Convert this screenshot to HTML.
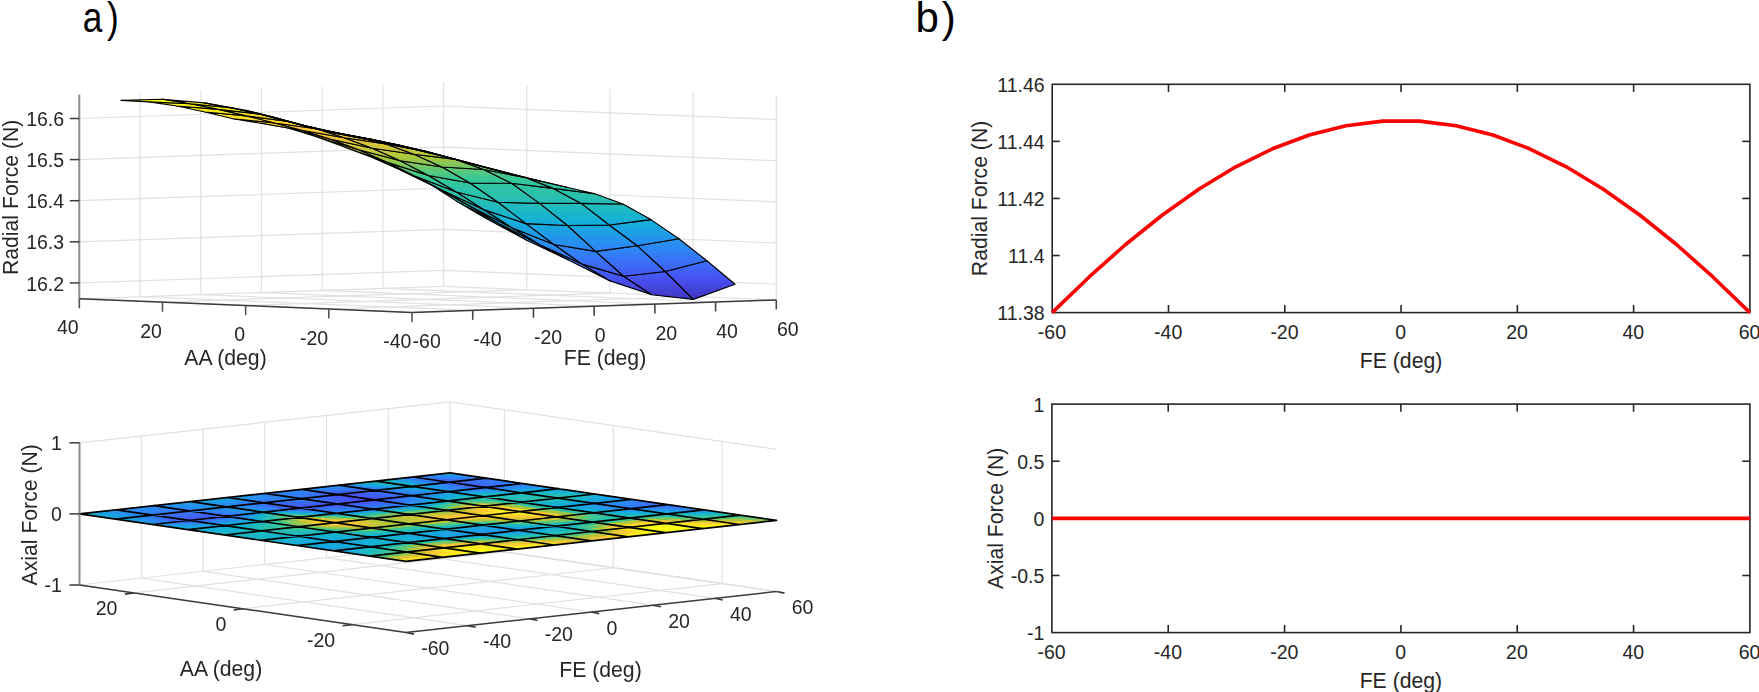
<!DOCTYPE html>
<html><head><meta charset="utf-8"><title>Figure</title>
<style>
html,body{margin:0;padding:0;background:#fff;}
svg{display:block;font-family:"Liberation Sans",sans-serif;}
</style></head><body>
<svg width="1759" height="692" viewBox="0 0 1759 692">
<rect width="1759" height="692" fill="#fff"/>
<text x="0" y="32.3" font-size="42" fill="#000" letter-spacing="5.6" transform="translate(82.8 0) scale(0.84 1)">a)</text>
<text x="0" y="32.3" font-size="42" fill="#000" letter-spacing="3" transform="translate(915.4 0)">b)</text>
<rect x="1052.2" y="84.3" width="697.70" height="228.30" fill="none" stroke="#262626" stroke-width="1.6"/>
<text x="1051.90" y="339.40" font-size="19.5" text-anchor="middle" fill="#262626">-60</text>
<line x1="1168.48" y1="312.60" x2="1168.48" y2="305.00" stroke="#262626" stroke-width="1.6"/>
<line x1="1168.48" y1="84.30" x2="1168.48" y2="91.90" stroke="#262626" stroke-width="1.6"/>
<text x="1168.18" y="339.40" font-size="19.5" text-anchor="middle" fill="#262626">-40</text>
<line x1="1284.77" y1="312.60" x2="1284.77" y2="305.00" stroke="#262626" stroke-width="1.6"/>
<line x1="1284.77" y1="84.30" x2="1284.77" y2="91.90" stroke="#262626" stroke-width="1.6"/>
<text x="1284.47" y="339.40" font-size="19.5" text-anchor="middle" fill="#262626">-20</text>
<line x1="1401.05" y1="312.60" x2="1401.05" y2="305.00" stroke="#262626" stroke-width="1.6"/>
<line x1="1401.05" y1="84.30" x2="1401.05" y2="91.90" stroke="#262626" stroke-width="1.6"/>
<text x="1400.75" y="339.40" font-size="19.5" text-anchor="middle" fill="#262626">0</text>
<line x1="1517.33" y1="312.60" x2="1517.33" y2="305.00" stroke="#262626" stroke-width="1.6"/>
<line x1="1517.33" y1="84.30" x2="1517.33" y2="91.90" stroke="#262626" stroke-width="1.6"/>
<text x="1517.03" y="339.40" font-size="19.5" text-anchor="middle" fill="#262626">20</text>
<line x1="1633.62" y1="312.60" x2="1633.62" y2="305.00" stroke="#262626" stroke-width="1.6"/>
<line x1="1633.62" y1="84.30" x2="1633.62" y2="91.90" stroke="#262626" stroke-width="1.6"/>
<text x="1633.32" y="339.40" font-size="19.5" text-anchor="middle" fill="#262626">40</text>
<text x="1749.60" y="339.40" font-size="19.5" text-anchor="middle" fill="#262626">60</text>
<text x="1044.60" y="320.40" font-size="19.5" text-anchor="end" fill="#262626">11.38</text>
<line x1="1052.20" y1="255.53" x2="1059.80" y2="255.53" stroke="#262626" stroke-width="1.6"/>
<line x1="1749.90" y1="255.53" x2="1742.30" y2="255.53" stroke="#262626" stroke-width="1.6"/>
<text x="1044.60" y="263.33" font-size="19.5" text-anchor="end" fill="#262626">11.4</text>
<line x1="1052.20" y1="198.45" x2="1059.80" y2="198.45" stroke="#262626" stroke-width="1.6"/>
<line x1="1749.90" y1="198.45" x2="1742.30" y2="198.45" stroke="#262626" stroke-width="1.6"/>
<text x="1044.60" y="206.25" font-size="19.5" text-anchor="end" fill="#262626">11.42</text>
<line x1="1052.20" y1="141.38" x2="1059.80" y2="141.38" stroke="#262626" stroke-width="1.6"/>
<line x1="1749.90" y1="141.38" x2="1742.30" y2="141.38" stroke="#262626" stroke-width="1.6"/>
<text x="1044.60" y="149.18" font-size="19.5" text-anchor="end" fill="#262626">11.44</text>
<text x="1044.60" y="92.10" font-size="19.5" text-anchor="end" fill="#262626">11.46</text>
<text x="1401.05" y="367.60" font-size="21.2" text-anchor="middle" fill="#262626">FE (deg)</text>
<text x="987.50" y="198.45" font-size="21.2" text-anchor="middle" fill="#262626" transform="rotate(-90 987.50 198.45)">Radial Force (N)</text>
<polyline points="1052.2,312.6 1088.9,277.2 1125.6,244.5 1162.4,215.0 1199.1,189.0 1235.8,166.8 1272.5,148.8 1309.2,135.0 1346.0,125.8 1382.7,121.1 1419.4,121.1 1456.1,125.8 1492.9,135.0 1529.6,148.8 1566.3,166.8 1603.0,189.0 1639.7,215.0 1676.5,244.5 1713.2,277.2 1749.9,312.6" fill="none" stroke="#ff0000" stroke-width="3.6" stroke-linejoin="round"/>
<rect x="1051.9" y="404.1" width="698.00" height="228.50" fill="none" stroke="#262626" stroke-width="1.6"/>
<text x="1051.60" y="659.40" font-size="19.5" text-anchor="middle" fill="#262626">-60</text>
<line x1="1168.23" y1="632.60" x2="1168.23" y2="625.00" stroke="#262626" stroke-width="1.6"/>
<line x1="1168.23" y1="404.10" x2="1168.23" y2="411.70" stroke="#262626" stroke-width="1.6"/>
<text x="1167.93" y="659.40" font-size="19.5" text-anchor="middle" fill="#262626">-40</text>
<line x1="1284.57" y1="632.60" x2="1284.57" y2="625.00" stroke="#262626" stroke-width="1.6"/>
<line x1="1284.57" y1="404.10" x2="1284.57" y2="411.70" stroke="#262626" stroke-width="1.6"/>
<text x="1284.27" y="659.40" font-size="19.5" text-anchor="middle" fill="#262626">-20</text>
<line x1="1400.90" y1="632.60" x2="1400.90" y2="625.00" stroke="#262626" stroke-width="1.6"/>
<line x1="1400.90" y1="404.10" x2="1400.90" y2="411.70" stroke="#262626" stroke-width="1.6"/>
<text x="1400.60" y="659.40" font-size="19.5" text-anchor="middle" fill="#262626">0</text>
<line x1="1517.23" y1="632.60" x2="1517.23" y2="625.00" stroke="#262626" stroke-width="1.6"/>
<line x1="1517.23" y1="404.10" x2="1517.23" y2="411.70" stroke="#262626" stroke-width="1.6"/>
<text x="1516.93" y="659.40" font-size="19.5" text-anchor="middle" fill="#262626">20</text>
<line x1="1633.57" y1="632.60" x2="1633.57" y2="625.00" stroke="#262626" stroke-width="1.6"/>
<line x1="1633.57" y1="404.10" x2="1633.57" y2="411.70" stroke="#262626" stroke-width="1.6"/>
<text x="1633.27" y="659.40" font-size="19.5" text-anchor="middle" fill="#262626">40</text>
<text x="1749.60" y="659.40" font-size="19.5" text-anchor="middle" fill="#262626">60</text>
<text x="1044.30" y="640.40" font-size="19.5" text-anchor="end" fill="#262626">-1</text>
<line x1="1051.90" y1="575.48" x2="1059.50" y2="575.48" stroke="#262626" stroke-width="1.6"/>
<line x1="1749.90" y1="575.48" x2="1742.30" y2="575.48" stroke="#262626" stroke-width="1.6"/>
<text x="1044.30" y="583.27" font-size="19.5" text-anchor="end" fill="#262626">-0.5</text>
<line x1="1051.90" y1="518.35" x2="1059.50" y2="518.35" stroke="#262626" stroke-width="1.6"/>
<line x1="1749.90" y1="518.35" x2="1742.30" y2="518.35" stroke="#262626" stroke-width="1.6"/>
<text x="1044.30" y="526.15" font-size="19.5" text-anchor="end" fill="#262626">0</text>
<line x1="1051.90" y1="461.23" x2="1059.50" y2="461.23" stroke="#262626" stroke-width="1.6"/>
<line x1="1749.90" y1="461.23" x2="1742.30" y2="461.23" stroke="#262626" stroke-width="1.6"/>
<text x="1044.30" y="469.03" font-size="19.5" text-anchor="end" fill="#262626">0.5</text>
<text x="1044.30" y="411.90" font-size="19.5" text-anchor="end" fill="#262626">1</text>
<text x="1400.90" y="687.60" font-size="21.2" text-anchor="middle" fill="#262626">FE (deg)</text>
<text x="1003.50" y="518.35" font-size="21.2" text-anchor="middle" fill="#262626" transform="rotate(-90 1003.50 518.35)">Axial Force (N)</text>
<line x1="1052.2" y1="518.35" x2="1749.9" y2="518.35" stroke="#ff0000" stroke-width="3.6"/>
<defs><filter id="soft" x="-2%" y="-2%" width="104%" height="104%"><feGaussianBlur stdDeviation="0.5"/></filter></defs>
<g id="p1" filter="url(#soft)">
<line x1="79.30" y1="298.80" x2="412.00" y2="312.40" stroke="#e1e1e1" stroke-width="1.2"/>
<line x1="140.02" y1="296.72" x2="472.72" y2="310.32" stroke="#e1e1e1" stroke-width="1.2"/>
<line x1="200.73" y1="294.63" x2="533.44" y2="308.23" stroke="#e1e1e1" stroke-width="1.2"/>
<line x1="261.45" y1="292.55" x2="594.15" y2="306.15" stroke="#e1e1e1" stroke-width="1.2"/>
<line x1="322.16" y1="290.46" x2="654.87" y2="304.06" stroke="#e1e1e1" stroke-width="1.2"/>
<line x1="382.88" y1="288.38" x2="715.58" y2="301.98" stroke="#e1e1e1" stroke-width="1.2"/>
<line x1="443.60" y1="286.30" x2="776.30" y2="299.90" stroke="#e1e1e1" stroke-width="1.2"/>
<line x1="412.00" y1="312.40" x2="776.30" y2="299.90" stroke="#e1e1e1" stroke-width="1.2"/>
<line x1="328.83" y1="309.00" x2="693.12" y2="296.50" stroke="#e1e1e1" stroke-width="1.2"/>
<line x1="245.65" y1="305.60" x2="609.95" y2="293.10" stroke="#e1e1e1" stroke-width="1.2"/>
<line x1="162.48" y1="302.20" x2="526.77" y2="289.70" stroke="#e1e1e1" stroke-width="1.2"/>
<line x1="79.30" y1="298.80" x2="443.60" y2="286.30" stroke="#e1e1e1" stroke-width="1.2"/>
<line x1="79.30" y1="298.80" x2="79.30" y2="94.80" stroke="#e1e1e1" stroke-width="1.2"/>
<line x1="140.02" y1="296.72" x2="140.02" y2="92.72" stroke="#e1e1e1" stroke-width="1.2"/>
<line x1="200.73" y1="294.63" x2="200.73" y2="90.63" stroke="#e1e1e1" stroke-width="1.2"/>
<line x1="261.45" y1="292.55" x2="261.45" y2="88.55" stroke="#e1e1e1" stroke-width="1.2"/>
<line x1="322.16" y1="290.46" x2="322.16" y2="86.46" stroke="#e1e1e1" stroke-width="1.2"/>
<line x1="382.88" y1="288.38" x2="382.88" y2="84.38" stroke="#e1e1e1" stroke-width="1.2"/>
<line x1="443.60" y1="286.30" x2="443.60" y2="82.30" stroke="#e1e1e1" stroke-width="1.2"/>
<line x1="776.30" y1="299.90" x2="776.30" y2="95.90" stroke="#e1e1e1" stroke-width="1.2"/>
<line x1="693.12" y1="296.50" x2="693.12" y2="92.50" stroke="#e1e1e1" stroke-width="1.2"/>
<line x1="609.95" y1="293.10" x2="609.95" y2="89.10" stroke="#e1e1e1" stroke-width="1.2"/>
<line x1="526.77" y1="289.70" x2="526.77" y2="85.70" stroke="#e1e1e1" stroke-width="1.2"/>
<polyline points="79.3,282.9 443.6,270.4 776.3,284.0" fill="none" stroke="#e1e1e1" stroke-width="1.2"/>
<polyline points="79.3,241.8 443.6,229.3 776.3,242.9" fill="none" stroke="#e1e1e1" stroke-width="1.2"/>
<polyline points="79.3,200.7 443.6,188.2 776.3,201.8" fill="none" stroke="#e1e1e1" stroke-width="1.2"/>
<polyline points="79.3,159.6 443.6,147.1 776.3,160.7" fill="none" stroke="#e1e1e1" stroke-width="1.2"/>
<polyline points="79.3,118.5 443.6,106.0 776.3,119.6" fill="none" stroke="#e1e1e1" stroke-width="1.2"/>
<defs><linearGradient id="pg" gradientUnits="userSpaceOnUse" x1="0" y1="96.0" x2="0" y2="302.0"><stop offset="0.000" stop-color="#f9fb15"/><stop offset="0.025" stop-color="#f9fb15"/><stop offset="0.050" stop-color="#faf21a"/><stop offset="0.075" stop-color="#fbe821"/><stop offset="0.100" stop-color="#fcde27"/><stop offset="0.125" stop-color="#fdd52d"/><stop offset="0.150" stop-color="#fecb33"/><stop offset="0.175" stop-color="#fbc338"/><stop offset="0.200" stop-color="#edc438"/><stop offset="0.225" stop-color="#dec538"/><stop offset="0.250" stop-color="#cec538"/><stop offset="0.275" stop-color="#bcc639"/><stop offset="0.300" stop-color="#a8c73b"/><stop offset="0.325" stop-color="#8ac754"/><stop offset="0.350" stop-color="#6cc76d"/><stop offset="0.375" stop-color="#4fc884"/><stop offset="0.400" stop-color="#38c896"/><stop offset="0.425" stop-color="#32c59f"/><stop offset="0.450" stop-color="#2ec3a6"/><stop offset="0.475" stop-color="#2bc1ab"/><stop offset="0.500" stop-color="#28bfb1"/><stop offset="0.525" stop-color="#23bcb9"/><stop offset="0.550" stop-color="#1eb9c2"/><stop offset="0.575" stop-color="#18b5cc"/><stop offset="0.600" stop-color="#12b1d6"/><stop offset="0.625" stop-color="#17aadc"/><stop offset="0.650" stop-color="#1ba2e2"/><stop offset="0.675" stop-color="#209be7"/><stop offset="0.700" stop-color="#2593ed"/><stop offset="0.725" stop-color="#2a8cf3"/><stop offset="0.750" stop-color="#2f84f7"/><stop offset="0.775" stop-color="#337bf6"/><stop offset="0.800" stop-color="#3872f6"/><stop offset="0.825" stop-color="#3d69f5"/><stop offset="0.850" stop-color="#415ff5"/><stop offset="0.875" stop-color="#4656f4"/><stop offset="0.900" stop-color="#474eed"/><stop offset="0.925" stop-color="#4546e0"/><stop offset="0.950" stop-color="#433fd2"/><stop offset="0.975" stop-color="#4237c5"/><stop offset="1.000" stop-color="#402fb8"/></linearGradient></defs>
<g stroke="#000" stroke-width="1.15" stroke-linejoin="round" fill="url(#pg)">
<polygon points="498.8,223.4 526.8,240.2 485.2,217.9 457.2,201.4"/>
<polygon points="470.8,206.6 498.8,223.4 457.2,201.4 429.2,183.5"/>
<polygon points="540.4,244.9 568.5,260.0 526.8,240.2 498.8,223.4"/>
<polygon points="442.8,190.6 470.8,206.6 429.2,183.5 401.1,170.3"/>
<polygon points="512.4,228.0 540.4,244.9 498.8,223.4 470.8,206.6"/>
<polygon points="414.8,176.0 442.8,190.6 401.1,170.3 373.1,157.7"/>
<polygon points="582.1,264.1 610.1,280.9 568.5,260.0 540.4,244.9"/>
<polygon points="484.4,209.9 512.4,228.0 470.8,206.6 442.8,190.6"/>
<polygon points="386.7,162.1 414.8,176.0 373.1,157.7 345.1,147.2"/>
<polygon points="554.0,244.5 582.1,264.1 540.4,244.9 512.4,228.0"/>
<polygon points="456.4,192.0 484.4,209.9 442.8,190.6 414.8,176.0"/>
<polygon points="358.7,149.7 386.7,162.1 345.1,147.2 317.1,137.0"/>
<polygon points="623.7,276.2 651.7,294.8 610.1,280.9 582.1,264.1"/>
<polygon points="526.0,223.6 554.0,244.5 512.4,228.0 484.4,209.9"/>
<polygon points="428.4,175.5 456.4,192.0 414.8,176.0 386.7,162.1"/>
<polygon points="330.7,139.2 358.7,149.7 317.1,137.0 289.1,128.2"/>
<polygon points="595.7,251.4 623.7,276.2 582.1,264.1 554.0,244.5"/>
<polygon points="498.0,202.3 526.0,223.6 484.4,209.9 456.4,192.0"/>
<polygon points="400.3,160.8 428.4,175.5 386.7,162.1 358.7,149.7"/>
<polygon points="302.7,130.5 330.7,139.2 289.1,128.2 261.0,123.3"/>
<polygon points="665.3,271.5 693.3,299.4 651.7,294.8 623.7,276.2"/>
<polygon points="567.6,225.5 595.7,251.4 554.0,244.5 526.0,223.6"/>
<polygon points="470.0,183.0 498.0,202.3 456.4,192.0 428.4,175.5"/>
<polygon points="372.3,148.3 400.3,160.8 358.7,149.7 330.7,139.2"/>
<polygon points="274.7,123.0 302.7,130.5 261.0,123.3 233.0,118.7"/>
<polygon points="637.3,245.7 665.3,271.5 623.7,276.2 595.7,251.4"/>
<polygon points="539.6,203.4 567.6,225.5 526.0,223.6 498.0,202.3"/>
<polygon points="442.0,167.0 470.0,183.0 428.4,175.5 400.3,160.8"/>
<polygon points="344.3,137.7 372.3,148.3 330.7,139.2 302.7,130.5"/>
<polygon points="706.9,260.8 735.0,284.3 693.3,299.4 665.3,271.5"/>
<polygon points="246.6,115.9 274.7,123.0 233.0,118.7 205.0,112.0"/>
<polygon points="609.3,225.0 637.3,245.7 595.7,251.4 567.6,225.5"/>
<polygon points="511.6,183.3 539.6,203.4 498.0,202.3 470.0,183.0"/>
<polygon points="413.9,154.2 442.0,167.0 400.3,160.8 372.3,148.3"/>
<polygon points="316.3,128.8 344.3,137.7 302.7,130.5 274.7,123.0"/>
<polygon points="678.9,238.7 706.9,260.8 665.3,271.5 637.3,245.7"/>
<polygon points="218.6,109.4 246.6,115.9 205.0,112.0 177.0,106.0"/>
<polygon points="581.3,203.4 609.3,225.0 567.6,225.5 539.6,203.4"/>
<polygon points="483.6,169.5 511.6,183.3 470.0,183.0 442.0,167.0"/>
<polygon points="385.9,144.0 413.9,154.2 372.3,148.3 344.3,137.7"/>
<polygon points="288.3,121.5 316.3,128.8 274.7,123.0 246.6,115.9"/>
<polygon points="650.9,219.6 678.9,238.7 637.3,245.7 609.3,225.0"/>
<polygon points="190.6,103.8 218.6,109.4 177.0,106.0 149.0,101.9"/>
<polygon points="553.2,188.4 581.3,203.4 539.6,203.4 511.6,183.3"/>
<polygon points="455.6,159.4 483.6,169.5 442.0,167.0 413.9,154.2"/>
<polygon points="357.9,136.9 385.9,144.0 344.3,137.7 316.3,128.8"/>
<polygon points="260.2,114.1 288.3,121.5 246.6,115.9 218.6,109.4"/>
<polygon points="622.9,204.0 650.9,219.6 609.3,225.0 581.3,203.4"/>
<polygon points="162.6,99.2 190.6,103.8 149.0,101.9 120.9,100.4"/>
<polygon points="525.2,177.5 553.2,188.4 511.6,183.3 483.6,169.5"/>
<polygon points="427.5,151.7 455.6,159.4 413.9,154.2 385.9,144.0"/>
<polygon points="329.9,132.0 357.9,136.9 316.3,128.8 288.3,121.5"/>
<polygon points="232.2,108.0 260.2,114.1 218.6,109.4 190.6,103.8"/>
<polygon points="594.9,193.7 622.9,204.0 581.3,203.4 553.2,188.4"/>
<polygon points="497.2,170.4 525.2,177.5 483.6,169.5 455.6,159.4"/>
<polygon points="399.5,145.2 427.5,151.7 385.9,144.0 357.9,136.9"/>
<polygon points="301.9,125.1 329.9,132.0 288.3,121.5 260.2,114.1"/>
<polygon points="204.2,102.9 232.2,108.0 190.6,103.8 162.6,99.2"/>
<polygon points="566.8,187.3 594.9,193.7 553.2,188.4 525.2,177.5"/>
<polygon points="469.2,163.1 497.2,170.4 455.6,159.4 427.5,151.7"/>
<polygon points="371.5,139.3 399.5,145.2 357.9,136.9 329.9,132.0"/>
<polygon points="273.8,117.3 301.9,125.1 260.2,114.1 232.2,108.0"/>
<polygon points="538.8,180.8 566.8,187.3 525.2,177.5 497.2,170.4"/>
<polygon points="441.2,155.5 469.2,163.1 427.5,151.7 399.5,145.2"/>
<polygon points="343.5,134.4 371.5,139.3 329.9,132.0 301.9,125.1"/>
<polygon points="245.8,110.4 273.8,117.3 232.2,108.0 204.2,102.9"/>
<polygon points="510.8,173.8 538.8,180.8 497.2,170.4 469.2,163.1"/>
<polygon points="413.1,148.9 441.2,155.5 399.5,145.2 371.5,139.3"/>
<polygon points="315.5,128.6 343.5,134.4 301.9,125.1 273.8,117.3"/>
<polygon points="482.8,166.7 510.8,173.8 469.2,163.1 441.2,155.5"/>
<polygon points="385.1,142.9 413.1,148.9 371.5,139.3 343.5,134.4"/>
<polygon points="287.4,121.3 315.5,128.6 273.8,117.3 245.8,110.4"/>
<polygon points="454.8,159.2 482.8,166.7 441.2,155.5 413.1,148.9"/>
<polygon points="357.1,137.4 385.1,142.9 343.5,134.4 315.5,128.6"/>
<polygon points="426.7,151.5 454.8,159.2 413.1,148.9 385.1,142.9"/>
<polygon points="329.1,132.0 357.1,137.4 315.5,128.6 287.4,121.3"/>
<polygon points="398.7,145.1 426.7,151.5 385.1,142.9 357.1,137.4"/>
<polygon points="370.7,139.2 398.7,145.1 357.1,137.4 329.1,132.0"/>
</g>
<line x1="79.30" y1="298.80" x2="79.30" y2="94.80" stroke="#8c8c8c" stroke-width="2.0"/>
<polyline points="79.3,298.8 412.0,312.4 776.3,299.9" fill="none" stroke="#3a3a3a" stroke-width="1.5" stroke-linejoin="round"/>
<line x1="69.80" y1="282.90" x2="79.30" y2="282.90" stroke="#3a3a3a" stroke-width="1.5"/>
<text x="64.10" y="290.50" font-size="19.5" text-anchor="end" fill="#262626">16.2</text>
<line x1="69.80" y1="241.80" x2="79.30" y2="241.80" stroke="#3a3a3a" stroke-width="1.5"/>
<text x="64.10" y="249.40" font-size="19.5" text-anchor="end" fill="#262626">16.3</text>
<line x1="69.80" y1="200.70" x2="79.30" y2="200.70" stroke="#3a3a3a" stroke-width="1.5"/>
<text x="64.10" y="208.30" font-size="19.5" text-anchor="end" fill="#262626">16.4</text>
<line x1="69.80" y1="159.60" x2="79.30" y2="159.60" stroke="#3a3a3a" stroke-width="1.5"/>
<text x="64.10" y="167.20" font-size="19.5" text-anchor="end" fill="#262626">16.5</text>
<line x1="69.80" y1="118.50" x2="79.30" y2="118.50" stroke="#3a3a3a" stroke-width="1.5"/>
<text x="64.10" y="126.10" font-size="19.5" text-anchor="end" fill="#262626">16.6</text>
<line x1="79.30" y1="298.80" x2="79.30" y2="308.30" stroke="#555" stroke-width="1.6"/>
<text x="78.70" y="334.40" font-size="19.5" text-anchor="end" fill="#262626">40</text>
<line x1="162.48" y1="302.20" x2="162.48" y2="311.70" stroke="#555" stroke-width="1.6"/>
<text x="161.88" y="337.80" font-size="19.5" text-anchor="end" fill="#262626">20</text>
<line x1="245.65" y1="305.60" x2="245.65" y2="315.10" stroke="#555" stroke-width="1.6"/>
<text x="245.05" y="341.20" font-size="19.5" text-anchor="end" fill="#262626">0</text>
<line x1="328.83" y1="309.00" x2="328.83" y2="318.50" stroke="#555" stroke-width="1.6"/>
<text x="328.23" y="344.60" font-size="19.5" text-anchor="end" fill="#262626">-20</text>
<line x1="412.00" y1="312.40" x2="412.00" y2="321.90" stroke="#555" stroke-width="1.6"/>
<text x="411.40" y="348.00" font-size="19.5" text-anchor="end" fill="#262626">-40</text>
<text x="412.60" y="348.40" font-size="19.5" text-anchor="start" fill="#262626">-60</text>
<line x1="472.72" y1="310.32" x2="472.72" y2="319.82" stroke="#444" stroke-width="1.6"/>
<text x="473.32" y="346.32" font-size="19.5" text-anchor="start" fill="#262626">-40</text>
<line x1="533.44" y1="308.23" x2="533.44" y2="317.73" stroke="#444" stroke-width="1.6"/>
<text x="534.04" y="344.23" font-size="19.5" text-anchor="start" fill="#262626">-20</text>
<line x1="594.15" y1="306.15" x2="594.15" y2="315.65" stroke="#444" stroke-width="1.6"/>
<text x="594.75" y="342.15" font-size="19.5" text-anchor="start" fill="#262626">0</text>
<line x1="654.87" y1="304.06" x2="654.87" y2="313.56" stroke="#444" stroke-width="1.6"/>
<text x="655.47" y="340.06" font-size="19.5" text-anchor="start" fill="#262626">20</text>
<line x1="715.58" y1="301.98" x2="715.58" y2="311.48" stroke="#444" stroke-width="1.6"/>
<text x="716.18" y="337.98" font-size="19.5" text-anchor="start" fill="#262626">40</text>
<line x1="776.30" y1="299.90" x2="776.30" y2="309.40" stroke="#444" stroke-width="1.6"/>
<text x="776.90" y="335.90" font-size="19.5" text-anchor="start" fill="#262626">60</text>
<text x="225.50" y="365.00" font-size="21.2" text-anchor="middle" fill="#262626">AA (deg)</text>
<text x="605.00" y="364.70" font-size="21.2" text-anchor="middle" fill="#262626">FE (deg)</text>
<text x="17.60" y="197.30" font-size="21.2" text-anchor="middle" fill="#262626" transform="rotate(-90 17.60 197.30)">Radial Force (N)</text>
</g>
<g id="p2" filter="url(#soft)">
<line x1="79.50" y1="585.00" x2="406.00" y2="632.50" stroke="#e1e1e1" stroke-width="1.2"/>
<line x1="79.50" y1="585.00" x2="79.50" y2="442.80" stroke="#e1e1e1" stroke-width="1.2"/>
<line x1="141.25" y1="578.17" x2="467.75" y2="625.67" stroke="#e1e1e1" stroke-width="1.2"/>
<line x1="141.25" y1="578.17" x2="141.25" y2="435.97" stroke="#e1e1e1" stroke-width="1.2"/>
<line x1="203.00" y1="571.33" x2="529.50" y2="618.83" stroke="#e1e1e1" stroke-width="1.2"/>
<line x1="203.00" y1="571.33" x2="203.00" y2="429.13" stroke="#e1e1e1" stroke-width="1.2"/>
<line x1="264.75" y1="564.50" x2="591.25" y2="612.00" stroke="#e1e1e1" stroke-width="1.2"/>
<line x1="264.75" y1="564.50" x2="264.75" y2="422.30" stroke="#e1e1e1" stroke-width="1.2"/>
<line x1="326.50" y1="557.66" x2="653.00" y2="605.17" stroke="#e1e1e1" stroke-width="1.2"/>
<line x1="326.50" y1="557.66" x2="326.50" y2="415.46" stroke="#e1e1e1" stroke-width="1.2"/>
<line x1="388.25" y1="550.83" x2="714.75" y2="598.33" stroke="#e1e1e1" stroke-width="1.2"/>
<line x1="388.25" y1="550.83" x2="388.25" y2="408.63" stroke="#e1e1e1" stroke-width="1.2"/>
<line x1="450.00" y1="544.00" x2="776.50" y2="591.50" stroke="#e1e1e1" stroke-width="1.2"/>
<line x1="450.00" y1="544.00" x2="450.00" y2="401.80" stroke="#e1e1e1" stroke-width="1.2"/>
<line x1="133.92" y1="592.92" x2="504.42" y2="551.91" stroke="#e1e1e1" stroke-width="1.2"/>
<line x1="504.42" y1="551.91" x2="504.42" y2="409.71" stroke="#e1e1e1" stroke-width="1.2"/>
<line x1="242.75" y1="608.75" x2="613.25" y2="567.75" stroke="#e1e1e1" stroke-width="1.2"/>
<line x1="613.25" y1="567.75" x2="613.25" y2="425.55" stroke="#e1e1e1" stroke-width="1.2"/>
<line x1="351.58" y1="624.59" x2="722.09" y2="583.58" stroke="#e1e1e1" stroke-width="1.2"/>
<line x1="722.09" y1="583.58" x2="722.09" y2="441.38" stroke="#e1e1e1" stroke-width="1.2"/>
<polyline points="79.5,585.0 450.0,544.0 776.5,591.5" fill="none" stroke="#e1e1e1" stroke-width="1.2"/>
<polyline points="79.5,513.9 450.0,472.9 776.5,520.4" fill="none" stroke="#e1e1e1" stroke-width="1.2"/>
<polyline points="79.5,442.8 450.0,401.8 776.5,449.3" fill="none" stroke="#e1e1e1" stroke-width="1.2"/>
<polyline points="450.0,544.0 776.5,591.5" fill="none" stroke="#e1e1e1" stroke-width="1.2"/>
<g shape-rendering="crispEdges" stroke-width="0.6">
<polygon points="79.5,513.9 91.8,512.5 103.9,514.3 91.6,515.7" fill="#15adda" stroke="#15adda"/>
<polygon points="91.8,512.5 104.2,511.2 116.3,512.9 103.9,514.3" fill="#1ca1e3" stroke="#1ca1e3"/>
<polygon points="104.2,511.2 116.5,509.8 128.6,511.6 116.3,512.9" fill="#2495ec" stroke="#2495ec"/>
<polygon points="116.5,509.8 128.9,508.4 141.0,510.2 128.6,511.6" fill="#288ff1" stroke="#288ff1"/>
<polygon points="128.9,508.4 141.2,507.1 153.3,508.8 141.0,510.2" fill="#298ef2" stroke="#298ef2"/>
<polygon points="141.2,507.1 153.6,505.7 165.7,507.5 153.3,508.8" fill="#2a8cf3" stroke="#2a8cf3"/>
<polygon points="153.6,505.7 165.9,504.3 178.0,506.1 165.7,507.5" fill="#288ff1" stroke="#288ff1"/>
<polygon points="165.9,504.3 178.3,503.0 190.4,504.7 178.0,506.1" fill="#2496eb" stroke="#2496eb"/>
<polygon points="178.3,503.0 190.6,501.6 202.7,503.4 190.4,504.7" fill="#1f9de6" stroke="#1f9de6"/>
<polygon points="190.6,501.6 203.0,500.2 215.1,502.0 202.7,503.4" fill="#1ca2e2" stroke="#1ca2e2"/>
<polygon points="203.0,500.2 215.3,498.9 227.4,500.6 215.1,502.0" fill="#1ba4e1" stroke="#1ba4e1"/>
<polygon points="215.3,498.9 227.7,497.5 239.8,499.3 227.4,500.6" fill="#19a6df" stroke="#19a6df"/>
<polygon points="227.7,497.5 240.0,496.1 252.1,497.9 239.8,499.3" fill="#1ca1e3" stroke="#1ca1e3"/>
<polygon points="240.0,496.1 252.4,494.8 264.5,496.5 252.1,497.9" fill="#2496eb" stroke="#2496eb"/>
<polygon points="252.4,494.8 264.8,493.4 276.8,495.2 264.5,496.5" fill="#2b8bf4" stroke="#2b8bf4"/>
<polygon points="264.8,493.4 277.1,492.0 289.2,493.8 276.8,495.2" fill="#2e86f7" stroke="#2e86f7"/>
<polygon points="277.1,492.0 289.4,490.7 301.5,492.4 289.2,493.8" fill="#2d88f6" stroke="#2d88f6"/>
<polygon points="289.4,490.7 301.8,489.3 313.9,491.1 301.5,492.4" fill="#2b8af4" stroke="#2b8af4"/>
<polygon points="301.8,489.3 314.1,487.9 326.2,489.7 313.9,491.1" fill="#2a8cf3" stroke="#2a8cf3"/>
<polygon points="314.1,487.9 326.5,486.6 338.6,488.3 326.2,489.7" fill="#2a8cf3" stroke="#2a8cf3"/>
<polygon points="326.5,486.6 338.8,485.2 350.9,487.0 338.6,488.3" fill="#298df2" stroke="#298df2"/>
<polygon points="338.8,485.2 351.2,483.8 363.3,485.6 350.9,487.0" fill="#2298e9" stroke="#2298e9"/>
<polygon points="351.2,483.8 363.6,482.5 375.6,484.2 363.3,485.6" fill="#13aed8" stroke="#13aed8"/>
<polygon points="363.6,482.5 375.9,481.1 388.0,482.9 375.6,484.2" fill="#23bcb9" stroke="#23bcb9"/>
<polygon points="375.9,481.1 388.3,479.7 400.3,481.5 388.0,482.9" fill="#1fb9c0" stroke="#1fb9c0"/>
<polygon points="388.3,479.7 400.6,478.4 412.7,480.1 400.3,481.5" fill="#1ca2e2" stroke="#1ca2e2"/>
<polygon points="400.6,478.4 412.9,477.0 425.0,478.8 412.7,480.1" fill="#3083f7" stroke="#3083f7"/>
<polygon points="412.9,477.0 425.3,475.6 437.4,477.4 425.0,478.8" fill="#337cf6" stroke="#337cf6"/>
<polygon points="425.3,475.6 437.6,474.3 449.7,476.0 437.4,477.4" fill="#2791ef" stroke="#2791ef"/>
<polygon points="437.6,474.3 450.0,472.9 462.1,474.7 449.7,476.0" fill="#1aa4e0" stroke="#1aa4e0"/>
<polygon points="91.6,515.7 103.9,514.3 116.0,516.1 103.7,517.4" fill="#15adda" stroke="#15adda"/>
<polygon points="103.9,514.3 116.3,512.9 128.4,514.7 116.0,516.1" fill="#1f9ee5" stroke="#1f9ee5"/>
<polygon points="116.3,512.9 128.6,511.6 140.7,513.3 128.4,514.7" fill="#298ef1" stroke="#298ef1"/>
<polygon points="128.6,511.6 141.0,510.2 153.1,512.0 140.7,513.3" fill="#2e87f7" stroke="#2e87f7"/>
<polygon points="141.0,510.2 153.3,508.8 165.4,510.6 153.1,512.0" fill="#2e86f7" stroke="#2e86f7"/>
<polygon points="153.3,508.8 165.7,507.5 177.8,509.2 165.4,510.6" fill="#2e86f7" stroke="#2e86f7"/>
<polygon points="165.7,507.5 178.0,506.1 190.1,507.9 177.8,509.2" fill="#2c8af5" stroke="#2c8af5"/>
<polygon points="178.0,506.1 190.4,504.7 202.5,506.5 190.1,507.9" fill="#2791ef" stroke="#2791ef"/>
<polygon points="190.4,504.7 202.7,503.4 214.8,505.1 202.5,506.5" fill="#2299e9" stroke="#2299e9"/>
<polygon points="202.7,503.4 215.1,502.0 227.2,503.8 214.8,505.1" fill="#219ae8" stroke="#219ae8"/>
<polygon points="215.1,502.0 227.4,500.6 239.5,502.4 227.2,503.8" fill="#2397eb" stroke="#2397eb"/>
<polygon points="227.4,500.6 239.8,499.3 251.9,501.0 239.5,502.4" fill="#2693ee" stroke="#2693ee"/>
<polygon points="239.8,499.3 252.1,497.9 264.2,499.7 251.9,501.0" fill="#288ff1" stroke="#288ff1"/>
<polygon points="252.1,497.9 264.5,496.5 276.6,498.3 264.2,499.7" fill="#2b8bf4" stroke="#2b8bf4"/>
<polygon points="264.5,496.5 276.8,495.2 288.9,496.9 276.6,498.3" fill="#2d87f7" stroke="#2d87f7"/>
<polygon points="276.8,495.2 289.2,493.8 301.3,495.5 288.9,496.9" fill="#3082f7" stroke="#3082f7"/>
<polygon points="289.2,493.8 301.5,492.4 313.6,494.2 301.3,495.5" fill="#327ef6" stroke="#327ef6"/>
<polygon points="301.5,492.4 313.9,491.1 326.0,492.8 313.6,494.2" fill="#3579f6" stroke="#3579f6"/>
<polygon points="313.9,491.1 326.2,489.7 338.3,491.4 326.0,492.8" fill="#3578f6" stroke="#3578f6"/>
<polygon points="326.2,489.7 338.6,488.3 350.7,490.1 338.3,491.4" fill="#347bf6" stroke="#347bf6"/>
<polygon points="338.6,488.3 350.9,487.0 363.0,488.7 350.7,490.1" fill="#327df6" stroke="#327df6"/>
<polygon points="350.9,487.0 363.3,485.6 375.4,487.3 363.0,488.7" fill="#2a8cf3" stroke="#2a8cf3"/>
<polygon points="363.3,485.6 375.6,484.2 387.7,486.0 375.4,487.3" fill="#1aa4e0" stroke="#1aa4e0"/>
<polygon points="375.6,484.2 388.0,482.9 400.1,484.6 387.7,486.0" fill="#1bb7c7" stroke="#1bb7c7"/>
<polygon points="388.0,482.9 400.3,481.5 412.4,483.2 400.1,484.6" fill="#18b5cb" stroke="#18b5cb"/>
<polygon points="400.3,481.5 412.7,480.1 424.8,481.9 412.4,483.2" fill="#209ce7" stroke="#209ce7"/>
<polygon points="412.7,480.1 425.0,478.8 437.1,480.5 424.8,481.9" fill="#337cf6" stroke="#337cf6"/>
<polygon points="425.0,478.8 437.4,477.4 449.5,479.1 437.1,480.5" fill="#3773f6" stroke="#3773f6"/>
<polygon points="437.4,477.4 449.7,476.0 461.8,477.8 449.5,479.1" fill="#2f85f7" stroke="#2f85f7"/>
<polygon points="449.7,476.0 462.1,474.7 474.2,476.4 461.8,477.8" fill="#2593ed" stroke="#2593ed"/>
<polygon points="103.7,517.4 116.0,516.1 128.1,517.8 115.8,519.2" fill="#15adda" stroke="#15adda"/>
<polygon points="116.0,516.1 128.4,514.7 140.5,516.4 128.1,517.8" fill="#219ae8" stroke="#219ae8"/>
<polygon points="128.4,514.7 140.7,513.3 152.8,515.1 140.5,516.4" fill="#2d87f7" stroke="#2d87f7"/>
<polygon points="140.7,513.3 153.1,512.0 165.2,513.7 152.8,515.1" fill="#337cf6" stroke="#337cf6"/>
<polygon points="153.1,512.0 165.4,510.6 177.5,512.3 165.2,513.7" fill="#327ef6" stroke="#327ef6"/>
<polygon points="165.4,510.6 177.8,509.2 189.9,511.0 177.5,512.3" fill="#317ff6" stroke="#317ff6"/>
<polygon points="177.8,509.2 190.1,507.9 202.2,509.6 189.9,511.0" fill="#2f84f7" stroke="#2f84f7"/>
<polygon points="190.1,507.9 202.5,506.5 214.6,508.2 202.2,509.6" fill="#2a8cf3" stroke="#2a8cf3"/>
<polygon points="202.5,506.5 214.8,505.1 226.9,506.9 214.6,508.2" fill="#2594ed" stroke="#2594ed"/>
<polygon points="214.8,505.1 227.2,503.8 239.3,505.5 226.9,506.9" fill="#2593ed" stroke="#2593ed"/>
<polygon points="227.2,503.8 239.5,502.4 251.6,504.1 239.3,505.5" fill="#2c89f5" stroke="#2c89f5"/>
<polygon points="239.5,502.4 251.9,501.0 264.0,502.8 251.6,504.1" fill="#327ef6" stroke="#327ef6"/>
<polygon points="251.9,501.0 264.2,499.7 276.3,501.4 264.0,502.8" fill="#347af6" stroke="#347af6"/>
<polygon points="264.2,499.7 276.6,498.3 288.7,500.0 276.3,501.4" fill="#327ef6" stroke="#327ef6"/>
<polygon points="276.6,498.3 288.9,496.9 301.0,498.7 288.7,500.0" fill="#3083f7" stroke="#3083f7"/>
<polygon points="288.9,496.9 301.3,495.5 313.4,497.3 301.0,498.7" fill="#327ff6" stroke="#327ff6"/>
<polygon points="301.3,495.5 313.6,494.2 325.7,495.9 313.4,497.3" fill="#3873f6" stroke="#3873f6"/>
<polygon points="313.6,494.2 326.0,492.8 338.1,494.6 325.7,495.9" fill="#3e67f5" stroke="#3e67f5"/>
<polygon points="326.0,492.8 338.3,491.4 350.4,493.2 338.1,494.6" fill="#3f63f5" stroke="#3f63f5"/>
<polygon points="338.3,491.4 350.7,490.1 362.8,491.8 350.4,493.2" fill="#3d67f5" stroke="#3d67f5"/>
<polygon points="350.7,490.1 363.0,488.7 375.1,490.5 362.8,491.8" fill="#3b6cf6" stroke="#3b6cf6"/>
<polygon points="363.0,488.7 375.4,487.3 387.5,489.1 375.1,490.5" fill="#327ef6" stroke="#327ef6"/>
<polygon points="375.4,487.3 387.7,486.0 399.8,487.7 387.5,489.1" fill="#2199e9" stroke="#2199e9"/>
<polygon points="387.7,486.0 400.1,484.6 412.2,486.4 399.8,487.7" fill="#13b2d4" stroke="#13b2d4"/>
<polygon points="400.1,484.6 412.4,483.2 424.5,485.0 412.2,486.4" fill="#12b1d6" stroke="#12b1d6"/>
<polygon points="412.4,483.2 424.8,481.9 436.9,483.6 424.5,485.0" fill="#2495ec" stroke="#2495ec"/>
<polygon points="424.8,481.9 437.1,480.5 449.2,482.3 436.9,483.6" fill="#3676f6" stroke="#3676f6"/>
<polygon points="437.1,480.5 449.5,479.1 461.6,480.9 449.2,482.3" fill="#3c6bf5" stroke="#3c6bf5"/>
<polygon points="449.5,479.1 461.8,477.8 473.9,479.5 461.6,480.9" fill="#3676f6" stroke="#3676f6"/>
<polygon points="461.8,477.8 474.2,476.4 486.3,478.2 473.9,479.5" fill="#3081f7" stroke="#3081f7"/>
<polygon points="115.8,519.2 128.1,517.8 140.2,519.6 127.9,520.9" fill="#17a8dd" stroke="#17a8dd"/>
<polygon points="128.1,517.8 140.5,516.4 152.6,518.2 140.2,519.6" fill="#2594ed" stroke="#2594ed"/>
<polygon points="140.5,516.4 152.8,515.1 164.9,516.8 152.6,518.2" fill="#327ef6" stroke="#327ef6"/>
<polygon points="152.8,515.1 165.2,513.7 177.3,515.5 164.9,516.8" fill="#3872f6" stroke="#3872f6"/>
<polygon points="165.2,513.7 177.5,512.3 189.6,514.1 177.3,515.5" fill="#3774f6" stroke="#3774f6"/>
<polygon points="177.5,512.3 189.9,511.0 202.0,512.7 189.6,514.1" fill="#3676f6" stroke="#3676f6"/>
<polygon points="189.9,511.0 202.2,509.6 214.3,511.4 202.0,512.7" fill="#327df6" stroke="#327df6"/>
<polygon points="202.2,509.6 214.6,508.2 226.7,510.0 214.3,511.4" fill="#2c89f5" stroke="#2c89f5"/>
<polygon points="214.6,508.2 226.9,506.9 239.0,508.6 226.7,510.0" fill="#2593ed" stroke="#2593ed"/>
<polygon points="226.9,506.9 239.3,505.5 251.4,507.3 239.0,508.6" fill="#2791ef" stroke="#2791ef"/>
<polygon points="239.3,505.5 251.6,504.1 263.7,505.9 251.4,507.3" fill="#3081f7" stroke="#3081f7"/>
<polygon points="251.6,504.1 264.0,502.8 276.1,504.5 263.7,505.9" fill="#396ff6" stroke="#396ff6"/>
<polygon points="264.0,502.8 276.3,501.4 288.4,503.2 276.1,504.5" fill="#3c6af5" stroke="#3c6af5"/>
<polygon points="276.3,501.4 288.7,500.0 300.8,501.8 288.4,503.2" fill="#3872f6" stroke="#3872f6"/>
<polygon points="288.7,500.0 301.0,498.7 313.1,500.4 300.8,501.8" fill="#347af6" stroke="#347af6"/>
<polygon points="301.0,498.7 313.4,497.3 325.5,499.1 313.1,500.4" fill="#3677f6" stroke="#3677f6"/>
<polygon points="313.4,497.3 325.7,495.9 337.8,497.7 325.5,499.1" fill="#3d68f5" stroke="#3d68f5"/>
<polygon points="325.7,495.9 338.1,494.6 350.2,496.3 337.8,497.7" fill="#445af5" stroke="#445af5"/>
<polygon points="338.1,494.6 350.4,493.2 362.5,495.0 350.2,496.3" fill="#4557f5" stroke="#4557f5"/>
<polygon points="350.4,493.2 362.8,491.8 374.9,493.6 362.5,495.0" fill="#425ff5" stroke="#425ff5"/>
<polygon points="362.8,491.8 375.1,490.5 387.2,492.2 374.9,493.6" fill="#3e66f5" stroke="#3e66f5"/>
<polygon points="375.1,490.5 387.5,489.1 399.6,490.9 387.2,492.2" fill="#3578f6" stroke="#3578f6"/>
<polygon points="387.5,489.1 399.8,487.7 411.9,489.5 399.6,490.9" fill="#2692ee" stroke="#2692ee"/>
<polygon points="399.8,487.7 412.2,486.4 424.3,488.1 411.9,489.5" fill="#17aadc" stroke="#17aadc"/>
<polygon points="412.2,486.4 424.5,485.0 436.6,486.8 424.3,488.1" fill="#17a9dd" stroke="#17a9dd"/>
<polygon points="424.5,485.0 436.9,483.6 449.0,485.4 436.6,486.8" fill="#288ff0" stroke="#288ff0"/>
<polygon points="436.9,483.6 449.2,482.3 461.3,484.0 449.0,485.4" fill="#3872f6" stroke="#3872f6"/>
<polygon points="449.2,482.3 461.6,480.9 473.7,482.7 461.3,484.0" fill="#3e66f5" stroke="#3e66f5"/>
<polygon points="461.6,480.9 473.9,479.5 486.0,481.3 473.7,482.7" fill="#396ff6" stroke="#396ff6"/>
<polygon points="473.9,479.5 486.3,478.2 498.4,479.9 486.0,481.3" fill="#3578f6" stroke="#3578f6"/>
<polygon points="127.9,520.9 140.2,519.6 152.3,521.3 140.0,522.7" fill="#1d9fe4" stroke="#1d9fe4"/>
<polygon points="140.2,519.6 152.6,518.2 164.7,520.0 152.3,521.3" fill="#2b8bf4" stroke="#2b8bf4"/>
<polygon points="152.6,518.2 164.9,516.8 177.0,518.6 164.7,520.0" fill="#3873f6" stroke="#3873f6"/>
<polygon points="164.9,516.8 177.3,515.5 189.4,517.2 177.0,518.6" fill="#3d67f5" stroke="#3d67f5"/>
<polygon points="177.3,515.5 189.6,514.1 201.7,515.9 189.4,517.2" fill="#3c69f5" stroke="#3c69f5"/>
<polygon points="189.6,514.1 202.0,512.7 214.1,514.5 201.7,515.9" fill="#3b6cf6" stroke="#3b6cf6"/>
<polygon points="202.0,512.7 214.3,511.4 226.4,513.1 214.1,514.5" fill="#3676f6" stroke="#3676f6"/>
<polygon points="214.3,511.4 226.7,510.0 238.8,511.8 226.4,513.1" fill="#2d88f6" stroke="#2d88f6"/>
<polygon points="226.7,510.0 239.0,508.6 251.1,510.4 238.8,511.8" fill="#2397eb" stroke="#2397eb"/>
<polygon points="239.0,508.6 251.4,507.3 263.5,509.0 251.1,510.4" fill="#2495ec" stroke="#2495ec"/>
<polygon points="251.4,507.3 263.7,505.9 275.8,507.7 263.5,509.0" fill="#3181f7" stroke="#3181f7"/>
<polygon points="263.7,505.9 276.1,504.5 288.2,506.3 275.8,507.7" fill="#3c6af5" stroke="#3c6af5"/>
<polygon points="276.1,504.5 288.4,503.2 300.5,504.9 288.2,506.3" fill="#4061f5" stroke="#4061f5"/>
<polygon points="288.4,503.2 300.8,501.8 312.9,503.6 300.5,504.9" fill="#3e67f5" stroke="#3e67f5"/>
<polygon points="300.8,501.8 313.1,500.4 325.2,502.2 312.9,503.6" fill="#3b6cf6" stroke="#3b6cf6"/>
<polygon points="313.1,500.4 325.5,499.1 337.6,500.8 325.2,502.2" fill="#3c6af5" stroke="#3c6af5"/>
<polygon points="325.5,499.1 337.8,497.7 349.9,499.5 337.6,500.8" fill="#415ff5" stroke="#415ff5"/>
<polygon points="337.8,497.7 350.2,496.3 362.3,498.1 349.9,499.5" fill="#4754f4" stroke="#4754f4"/>
<polygon points="350.2,496.3 362.5,495.0 374.6,496.7 362.3,498.1" fill="#4754f4" stroke="#4754f4"/>
<polygon points="362.5,495.0 374.9,493.6 387.0,495.4 374.6,496.7" fill="#4160f5" stroke="#4160f5"/>
<polygon points="374.9,493.6 387.2,492.2 399.3,494.0 387.0,495.4" fill="#3b6cf6" stroke="#3b6cf6"/>
<polygon points="387.2,492.2 399.6,490.9 411.7,492.6 399.3,494.0" fill="#337cf6" stroke="#337cf6"/>
<polygon points="399.6,490.9 411.9,489.5 424.0,491.3 411.7,492.6" fill="#2890f0" stroke="#2890f0"/>
<polygon points="411.9,489.5 424.3,488.1 436.4,489.9 424.0,491.3" fill="#1ca1e2" stroke="#1ca1e2"/>
<polygon points="424.3,488.1 436.6,486.8 448.7,488.5 436.4,489.9" fill="#1d9fe4" stroke="#1d9fe4"/>
<polygon points="436.6,486.8 449.0,485.4 461.1,487.2 448.7,488.5" fill="#2c89f5" stroke="#2c89f5"/>
<polygon points="449.0,485.4 461.3,484.0 473.4,485.8 461.1,487.2" fill="#3a6ff6" stroke="#3a6ff6"/>
<polygon points="461.3,484.0 473.7,482.7 485.8,484.4 473.4,485.8" fill="#3e66f5" stroke="#3e66f5"/>
<polygon points="473.7,482.7 486.0,481.3 498.1,483.1 485.8,484.4" fill="#3970f6" stroke="#3970f6"/>
<polygon points="486.0,481.3 498.4,479.9 510.5,481.7 498.1,483.1" fill="#3479f6" stroke="#3479f6"/>
<polygon points="140.0,522.7 152.3,521.3 164.4,523.1 152.1,524.5" fill="#2396eb" stroke="#2396eb"/>
<polygon points="152.3,521.3 164.7,520.0 176.8,521.7 164.4,523.1" fill="#3181f7" stroke="#3181f7"/>
<polygon points="164.7,520.0 177.0,518.6 189.1,520.4 176.8,521.7" fill="#3d68f5" stroke="#3d68f5"/>
<polygon points="177.0,518.6 189.4,517.2 201.5,519.0 189.1,520.4" fill="#435cf5" stroke="#435cf5"/>
<polygon points="189.4,517.2 201.7,515.9 213.8,517.6 201.5,519.0" fill="#425ff5" stroke="#425ff5"/>
<polygon points="201.7,515.9 214.1,514.5 226.2,516.3 213.8,517.6" fill="#4061f5" stroke="#4061f5"/>
<polygon points="214.1,514.5 226.4,513.1 238.5,514.9 226.2,516.3" fill="#3a6ef6" stroke="#3a6ef6"/>
<polygon points="226.4,513.1 238.8,511.8 250.9,513.5 238.5,514.9" fill="#2e86f7" stroke="#2e86f7"/>
<polygon points="238.8,511.8 251.1,510.4 263.2,512.2 250.9,513.5" fill="#219ae8" stroke="#219ae8"/>
<polygon points="251.1,510.4 263.5,509.0 275.6,510.8 263.2,512.2" fill="#2298e9" stroke="#2298e9"/>
<polygon points="263.5,509.0 275.8,507.7 287.9,509.4 275.6,510.8" fill="#3180f7" stroke="#3180f7"/>
<polygon points="275.8,507.7 288.2,506.3 300.3,508.1 287.9,509.4" fill="#3f64f5" stroke="#3f64f5"/>
<polygon points="288.2,506.3 300.5,504.9 312.6,506.7 300.3,508.1" fill="#4558f5" stroke="#4558f5"/>
<polygon points="300.5,504.9 312.9,503.6 325.0,505.3 312.6,506.7" fill="#435bf5" stroke="#435bf5"/>
<polygon points="312.9,503.6 325.2,502.2 337.3,504.0 325.0,505.3" fill="#415ff5" stroke="#415ff5"/>
<polygon points="325.2,502.2 337.6,500.8 349.7,502.6 337.3,504.0" fill="#425df5" stroke="#425df5"/>
<polygon points="337.6,500.8 349.9,499.5 362.0,501.2 349.7,502.6" fill="#4655f4" stroke="#4655f4"/>
<polygon points="349.9,499.5 362.3,498.1 374.4,499.9 362.0,501.2" fill="#474fee" stroke="#474fee"/>
<polygon points="362.3,498.1 374.6,496.7 386.7,498.5 374.4,499.9" fill="#4852f4" stroke="#4852f4"/>
<polygon points="374.6,496.7 387.0,495.4 399.1,497.1 386.7,498.5" fill="#4061f5" stroke="#4061f5"/>
<polygon points="387.0,495.4 399.3,494.0 411.4,495.8 399.1,497.1" fill="#3871f6" stroke="#3871f6"/>
<polygon points="399.3,494.0 411.7,492.6 423.8,494.4 411.4,495.8" fill="#3180f7" stroke="#3180f7"/>
<polygon points="411.7,492.6 424.0,491.3 436.1,493.0 423.8,494.4" fill="#298df2" stroke="#298df2"/>
<polygon points="424.0,491.3 436.4,489.9 448.5,491.7 436.1,493.0" fill="#2299e9" stroke="#2299e9"/>
<polygon points="436.4,489.9 448.7,488.5 460.8,490.3 448.5,491.7" fill="#2496eb" stroke="#2496eb"/>
<polygon points="448.7,488.5 461.1,487.2 473.2,488.9 460.8,490.3" fill="#3083f7" stroke="#3083f7"/>
<polygon points="461.1,487.2 473.4,485.8 485.5,487.6 473.2,488.9" fill="#3b6cf6" stroke="#3b6cf6"/>
<polygon points="473.4,485.8 485.8,484.4 497.9,486.2 485.5,487.6" fill="#3e66f5" stroke="#3e66f5"/>
<polygon points="485.8,484.4 498.1,483.1 510.2,484.8 497.9,486.2" fill="#3970f6" stroke="#3970f6"/>
<polygon points="498.1,483.1 510.5,481.7 522.6,483.5 510.2,484.8" fill="#347bf6" stroke="#347bf6"/>
<polygon points="152.1,524.5 164.4,523.1 176.5,524.8 164.1,526.2" fill="#2397ea" stroke="#2397ea"/>
<polygon points="164.4,523.1 176.8,521.7 188.8,523.5 176.5,524.8" fill="#2e85f7" stroke="#2e85f7"/>
<polygon points="176.8,521.7 189.1,520.4 201.2,522.1 188.8,523.5" fill="#3970f6" stroke="#3970f6"/>
<polygon points="189.1,520.4 201.5,519.0 213.5,520.7 201.2,522.1" fill="#3e66f5" stroke="#3e66f5"/>
<polygon points="201.5,519.0 213.8,517.6 225.9,519.4 213.5,520.7" fill="#3c6af5" stroke="#3c6af5"/>
<polygon points="213.8,517.6 226.2,516.3 238.2,518.0 225.9,519.4" fill="#3a6ef6" stroke="#3a6ef6"/>
<polygon points="226.2,516.3 238.5,514.9 250.6,516.6 238.2,518.0" fill="#327df6" stroke="#327df6"/>
<polygon points="238.5,514.9 250.9,513.5 262.9,515.3 250.6,516.6" fill="#2495ec" stroke="#2495ec"/>
<polygon points="250.9,513.5 263.2,512.2 275.3,513.9 262.9,515.3" fill="#15abda" stroke="#15abda"/>
<polygon points="263.2,512.2 275.6,510.8 287.6,512.5 275.3,513.9" fill="#17a9dc" stroke="#17a9dc"/>
<polygon points="275.6,510.8 287.9,509.4 300.0,511.2 287.6,512.5" fill="#298ef1" stroke="#298ef1"/>
<polygon points="287.9,509.4 300.3,508.1 312.3,509.8 300.0,511.2" fill="#3a6ef6" stroke="#3a6ef6"/>
<polygon points="300.3,508.1 312.6,506.7 324.7,508.4 312.3,509.8" fill="#425ef5" stroke="#425ef5"/>
<polygon points="312.6,506.7 325.0,505.3 337.0,507.1 324.7,508.4" fill="#425ff5" stroke="#425ff5"/>
<polygon points="325.0,505.3 337.3,504.0 349.4,505.7 337.0,507.1" fill="#415ff5" stroke="#415ff5"/>
<polygon points="337.3,504.0 349.7,502.6 361.7,504.3 349.4,505.7" fill="#425ef5" stroke="#425ef5"/>
<polygon points="349.7,502.6 362.0,501.2 374.1,503.0 361.7,504.3" fill="#4459f5" stroke="#4459f5"/>
<polygon points="362.0,501.2 374.4,499.9 386.4,501.6 374.1,503.0" fill="#4655f4" stroke="#4655f4"/>
<polygon points="374.4,499.9 386.7,498.5 398.8,500.2 386.4,501.6" fill="#435bf5" stroke="#435bf5"/>
<polygon points="386.7,498.5 399.1,497.1 411.1,498.9 398.8,500.2" fill="#3a6df6" stroke="#3a6df6"/>
<polygon points="399.1,497.1 411.4,495.8 423.5,497.5 411.1,498.9" fill="#317ff7" stroke="#317ff7"/>
<polygon points="411.4,495.8 423.8,494.4 435.8,496.1 423.5,497.5" fill="#2a8cf3" stroke="#2a8cf3"/>
<polygon points="423.8,494.4 436.1,493.0 448.2,494.8 435.8,496.1" fill="#2495ec" stroke="#2495ec"/>
<polygon points="436.1,493.0 448.5,491.7 460.5,493.4 448.2,494.8" fill="#1e9ee5" stroke="#1e9ee5"/>
<polygon points="448.5,491.7 460.8,490.3 472.9,492.0 460.5,493.4" fill="#209be7" stroke="#209be7"/>
<polygon points="460.8,490.3 473.2,488.9 485.2,490.7 472.9,492.0" fill="#2a8cf3" stroke="#2a8cf3"/>
<polygon points="473.2,488.9 485.5,487.6 497.6,489.3 485.2,490.7" fill="#347bf6" stroke="#347bf6"/>
<polygon points="485.5,487.6 497.9,486.2 509.9,487.9 497.6,489.3" fill="#3675f6" stroke="#3675f6"/>
<polygon points="497.9,486.2 510.2,484.8 522.3,486.6 509.9,487.9" fill="#337df6" stroke="#337df6"/>
<polygon points="510.2,484.8 522.6,483.5 534.6,485.2 522.3,486.6" fill="#2f84f7" stroke="#2f84f7"/>
<polygon points="164.1,526.2 176.5,524.8 188.6,526.6 176.2,528.0" fill="#1ca1e3" stroke="#1ca1e3"/>
<polygon points="176.5,524.8 188.8,523.5 200.9,525.2 188.6,526.6" fill="#2495ec" stroke="#2495ec"/>
<polygon points="188.8,523.5 201.2,522.1 213.3,523.9 200.9,525.2" fill="#2c89f5" stroke="#2c89f5"/>
<polygon points="201.2,522.1 213.5,520.7 225.6,522.5 213.3,523.9" fill="#2e86f7" stroke="#2e86f7"/>
<polygon points="213.5,520.7 225.9,519.4 238.0,521.1 225.6,522.5" fill="#2b8af4" stroke="#2b8af4"/>
<polygon points="225.9,519.4 238.2,518.0 250.3,519.8 238.0,521.1" fill="#288ff1" stroke="#288ff1"/>
<polygon points="238.2,518.0 250.6,516.6 262.7,518.4 250.3,519.8" fill="#1f9de6" stroke="#1f9de6"/>
<polygon points="250.6,516.6 262.9,515.3 275.0,517.0 262.7,518.4" fill="#14b3d1" stroke="#14b3d1"/>
<polygon points="262.9,515.3 275.3,513.9 287.4,515.7 275.0,517.0" fill="#29bfaf" stroke="#29bfaf"/>
<polygon points="275.3,513.9 287.6,512.5 299.7,514.3 287.4,515.7" fill="#25bdb5" stroke="#25bdb5"/>
<polygon points="287.6,512.5 300.0,511.2 312.1,512.9 299.7,514.3" fill="#18a8dd" stroke="#18a8dd"/>
<polygon points="300.0,511.2 312.3,509.8 324.4,511.6 312.1,512.9" fill="#2d88f6" stroke="#2d88f6"/>
<polygon points="312.3,509.8 324.7,508.4 336.8,510.2 324.4,511.6" fill="#3773f6" stroke="#3773f6"/>
<polygon points="324.7,508.4 337.0,507.1 349.1,508.8 336.8,510.2" fill="#3970f6" stroke="#3970f6"/>
<polygon points="337.0,507.1 349.4,505.7 361.5,507.5 349.1,508.8" fill="#3a6df6" stroke="#3a6df6"/>
<polygon points="349.4,505.7 361.7,504.3 373.8,506.1 361.5,507.5" fill="#3b6bf6" stroke="#3b6bf6"/>
<polygon points="361.7,504.3 374.1,503.0 386.2,504.7 373.8,506.1" fill="#3c6af5" stroke="#3c6af5"/>
<polygon points="374.1,503.0 386.4,501.6 398.5,503.4 386.2,504.7" fill="#3d69f5" stroke="#3d69f5"/>
<polygon points="386.4,501.6 398.8,500.2 410.9,502.0 398.5,503.4" fill="#3871f6" stroke="#3871f6"/>
<polygon points="398.8,500.2 411.1,498.9 423.2,500.6 410.9,502.0" fill="#2f84f7" stroke="#2f84f7"/>
<polygon points="411.1,498.9 423.5,497.5 435.6,499.3 423.2,500.6" fill="#2593ed" stroke="#2593ed"/>
<polygon points="423.5,497.5 435.8,496.1 447.9,497.9 435.6,499.3" fill="#1e9fe4" stroke="#1e9fe4"/>
<polygon points="435.8,496.1 448.2,494.8 460.3,496.5 447.9,497.9" fill="#18a8dd" stroke="#18a8dd"/>
<polygon points="448.2,494.8 460.5,493.4 472.6,495.2 460.3,496.5" fill="#12b0d7" stroke="#12b0d7"/>
<polygon points="460.5,493.4 472.9,492.0 485.0,493.8 472.6,495.2" fill="#13afd8" stroke="#13afd8"/>
<polygon points="472.9,492.0 485.2,490.7 497.3,492.4 485.0,493.8" fill="#1ba3e1" stroke="#1ba3e1"/>
<polygon points="485.2,490.7 497.6,489.3 509.7,491.1 497.3,492.4" fill="#2298ea" stroke="#2298ea"/>
<polygon points="497.6,489.3 509.9,487.9 522.0,489.7 509.7,491.1" fill="#2692ee" stroke="#2692ee"/>
<polygon points="509.9,487.9 522.3,486.6 534.4,488.3 522.0,489.7" fill="#2692ee" stroke="#2692ee"/>
<polygon points="522.3,486.6 534.6,485.2 546.7,487.0 534.4,488.3" fill="#2692ee" stroke="#2692ee"/>
<polygon points="176.2,528.0 188.6,526.6 200.7,528.4 188.3,529.7" fill="#16abdb" stroke="#16abdb"/>
<polygon points="188.6,526.6 200.9,525.2 213.0,527.0 200.7,528.4" fill="#1aa5e0" stroke="#1aa5e0"/>
<polygon points="200.9,525.2 213.3,523.9 225.4,525.6 213.0,527.0" fill="#1e9fe4" stroke="#1e9fe4"/>
<polygon points="213.3,523.9 225.6,522.5 237.7,524.3 225.4,525.6" fill="#1e9fe4" stroke="#1e9fe4"/>
<polygon points="225.6,522.5 238.0,521.1 250.1,522.9 237.7,524.3" fill="#19a5df" stroke="#19a5df"/>
<polygon points="238.0,521.1 250.3,519.8 262.4,521.5 250.1,522.9" fill="#15acda" stroke="#15acda"/>
<polygon points="250.3,519.8 262.7,518.4 274.8,520.2 262.4,521.5" fill="#1ab6c8" stroke="#1ab6c8"/>
<polygon points="262.7,518.4 275.0,517.0 287.1,518.8 274.8,520.2" fill="#30c4a3" stroke="#30c4a3"/>
<polygon points="275.0,517.0 287.4,515.7 299.5,517.4 287.1,518.8" fill="#63c873" stroke="#63c873"/>
<polygon points="287.4,515.7 299.7,514.3 311.8,516.1 299.5,517.4" fill="#53c881" stroke="#53c881"/>
<polygon points="299.7,514.3 312.1,512.9 324.2,514.7 311.8,516.1" fill="#20babe" stroke="#20babe"/>
<polygon points="312.1,512.9 324.4,511.6 336.5,513.3 324.2,514.7" fill="#1f9de6" stroke="#1f9de6"/>
<polygon points="324.4,511.6 336.8,510.2 348.9,512.0 336.5,513.3" fill="#2d88f6" stroke="#2d88f6"/>
<polygon points="336.8,510.2 349.1,508.8 361.2,510.6 348.9,512.0" fill="#3082f7" stroke="#3082f7"/>
<polygon points="349.1,508.8 361.5,507.5 373.6,509.2 361.2,510.6" fill="#337cf6" stroke="#337cf6"/>
<polygon points="361.5,507.5 373.8,506.1 385.9,507.9 373.6,509.2" fill="#3479f6" stroke="#3479f6"/>
<polygon points="373.8,506.1 386.2,504.7 398.3,506.5 385.9,507.9" fill="#337bf6" stroke="#337bf6"/>
<polygon points="386.2,504.7 398.5,503.4 410.6,505.1 398.3,506.5" fill="#337df6" stroke="#337df6"/>
<polygon points="398.5,503.4 410.9,502.0 423.0,503.8 410.6,505.1" fill="#2d87f7" stroke="#2d87f7"/>
<polygon points="410.9,502.0 423.2,500.6 435.3,502.4 423.0,503.8" fill="#2396eb" stroke="#2396eb"/>
<polygon points="423.2,500.6 435.6,499.3 447.7,501.0 435.3,502.4" fill="#19a6df" stroke="#19a6df"/>
<polygon points="435.6,499.3 447.9,497.9 460.0,499.7 447.7,501.0" fill="#12b1d6" stroke="#12b1d6"/>
<polygon points="447.9,497.9 460.3,496.5 472.4,498.3 460.0,499.7" fill="#19b6c9" stroke="#19b6c9"/>
<polygon points="460.3,496.5 472.6,495.2 484.7,496.9 472.4,498.3" fill="#21babc" stroke="#21babc"/>
<polygon points="472.6,495.2 485.0,493.8 497.1,495.6 484.7,496.9" fill="#21bbbc" stroke="#21bbbc"/>
<polygon points="485.0,493.8 497.3,492.4 509.4,494.2 497.1,495.6" fill="#1ab6c8" stroke="#1ab6c8"/>
<polygon points="497.3,492.4 509.7,491.1 521.8,492.8 509.4,494.2" fill="#13b2d4" stroke="#13b2d4"/>
<polygon points="509.7,491.1 522.0,489.7 534.1,491.5 521.8,492.8" fill="#15acda" stroke="#15acda"/>
<polygon points="522.0,489.7 534.4,488.3 546.5,490.1 534.1,491.5" fill="#19a6df" stroke="#19a6df"/>
<polygon points="534.4,488.3 546.7,487.0 558.8,488.7 546.5,490.1" fill="#1da0e3" stroke="#1da0e3"/>
<polygon points="188.3,529.7 200.7,528.4 212.8,530.1 200.4,531.5" fill="#12b1d5" stroke="#12b1d5"/>
<polygon points="200.7,528.4 213.0,527.0 225.1,528.8 212.8,530.1" fill="#13b0d7" stroke="#13b0d7"/>
<polygon points="213.0,527.0 225.4,525.6 237.5,527.4 225.1,528.8" fill="#14aed9" stroke="#14aed9"/>
<polygon points="225.4,525.6 237.7,524.3 249.8,526.0 237.5,527.4" fill="#12b1d6" stroke="#12b1d6"/>
<polygon points="237.7,524.3 250.1,522.9 262.2,524.7 249.8,526.0" fill="#18b5cb" stroke="#18b5cb"/>
<polygon points="250.1,522.9 262.4,521.5 274.5,523.3 262.2,524.7" fill="#20babe" stroke="#20babe"/>
<polygon points="262.4,521.5 274.8,520.2 286.9,521.9 274.5,523.3" fill="#2fc3a4" stroke="#2fc3a4"/>
<polygon points="274.8,520.2 287.1,518.8 299.2,520.6 286.9,521.9" fill="#67c770" stroke="#67c770"/>
<polygon points="287.1,518.8 299.5,517.4 311.6,519.2 299.2,520.6" fill="#afc739" stroke="#afc739"/>
<polygon points="299.5,517.4 311.8,516.1 323.9,517.8 311.6,519.2" fill="#a1c741" stroke="#a1c741"/>
<polygon points="311.8,516.1 324.2,514.7 336.3,516.5 323.9,517.8" fill="#3bc894" stroke="#3bc894"/>
<polygon points="324.2,514.7 336.5,513.3 348.6,515.1 336.3,516.5" fill="#17b5cd" stroke="#17b5cd"/>
<polygon points="336.5,513.3 348.9,512.0 361.0,513.7 348.6,515.1" fill="#1ba3e1" stroke="#1ba3e1"/>
<polygon points="348.9,512.0 361.2,510.6 373.3,512.4 361.0,513.7" fill="#1e9ee5" stroke="#1e9ee5"/>
<polygon points="361.2,510.6 373.6,509.2 385.7,511.0 373.3,512.4" fill="#219ae8" stroke="#219ae8"/>
<polygon points="373.6,509.2 385.9,507.9 398.0,509.6 385.7,511.0" fill="#2298e9" stroke="#2298e9"/>
<polygon points="385.9,507.9 398.3,506.5 410.4,508.3 398.0,509.6" fill="#2298e9" stroke="#2298e9"/>
<polygon points="398.3,506.5 410.6,505.1 422.7,506.9 410.4,508.3" fill="#2299e9" stroke="#2299e9"/>
<polygon points="410.6,505.1 423.0,503.8 435.1,505.5 422.7,506.9" fill="#1ca2e2" stroke="#1ca2e2"/>
<polygon points="423.0,503.8 435.3,502.4 447.4,504.2 435.1,505.5" fill="#13b2d3" stroke="#13b2d3"/>
<polygon points="435.3,502.4 447.7,501.0 459.8,502.8 447.4,504.2" fill="#23bcb9" stroke="#23bcb9"/>
<polygon points="447.7,501.0 460.0,499.7 472.1,501.4 459.8,502.8" fill="#2bc0ac" stroke="#2bc0ac"/>
<polygon points="460.0,499.7 472.4,498.3 484.5,500.1 472.1,501.4" fill="#2ac0ad" stroke="#2ac0ad"/>
<polygon points="472.4,498.3 484.7,496.9 496.8,498.7 484.5,500.1" fill="#2ac0ad" stroke="#2ac0ad"/>
<polygon points="484.7,496.9 497.1,495.6 509.2,497.3 496.8,498.7" fill="#28bfb0" stroke="#28bfb0"/>
<polygon points="497.1,495.6 509.4,494.2 521.5,496.0 509.2,497.3" fill="#25bdb6" stroke="#25bdb6"/>
<polygon points="509.4,494.2 521.8,492.8 533.9,494.6 521.5,496.0" fill="#21bbbb" stroke="#21bbbb"/>
<polygon points="521.8,492.8 534.1,491.5 546.2,493.2 533.9,494.6" fill="#1cb7c5" stroke="#1cb7c5"/>
<polygon points="534.1,491.5 546.5,490.1 558.6,491.9 546.2,493.2" fill="#14b2d3" stroke="#14b2d3"/>
<polygon points="546.5,490.1 558.8,488.7 570.9,490.5 558.6,491.9" fill="#16aadb" stroke="#16aadb"/>
<polygon points="200.4,531.5 212.8,530.1 224.9,531.9 212.5,533.3" fill="#15b3d1" stroke="#15b3d1"/>
<polygon points="212.8,530.1 225.1,528.8 237.2,530.5 224.9,531.9" fill="#15b3d0" stroke="#15b3d0"/>
<polygon points="225.1,528.8 237.5,527.4 249.6,529.2 237.2,530.5" fill="#16b4cf" stroke="#16b4cf"/>
<polygon points="237.5,527.4 249.8,526.0 261.9,527.8 249.6,529.2" fill="#1ab6c7" stroke="#1ab6c7"/>
<polygon points="249.8,526.0 262.2,524.7 274.3,526.4 261.9,527.8" fill="#24bcb8" stroke="#24bcb8"/>
<polygon points="262.2,524.7 274.5,523.3 286.6,525.1 274.3,526.4" fill="#2dc2a9" stroke="#2dc2a9"/>
<polygon points="274.5,523.3 286.9,521.9 299.0,523.7 286.6,525.1" fill="#4ec885" stroke="#4ec885"/>
<polygon points="286.9,521.9 299.2,520.6 311.3,522.3 299.0,523.7" fill="#9fc742" stroke="#9fc742"/>
<polygon points="299.2,520.6 311.6,519.2 323.7,521.0 311.3,522.3" fill="#ddc538" stroke="#ddc538"/>
<polygon points="311.6,519.2 323.9,517.8 336.0,519.6 323.7,521.0" fill="#d8c538" stroke="#d8c538"/>
<polygon points="323.9,517.8 336.3,516.5 348.4,518.2 336.0,519.6" fill="#8cc752" stroke="#8cc752"/>
<polygon points="336.3,516.5 348.6,515.1 360.7,516.9 348.4,518.2" fill="#34c69c" stroke="#34c69c"/>
<polygon points="348.6,515.1 361.0,513.7 373.1,515.5 360.7,516.9" fill="#25bdb6" stroke="#25bdb6"/>
<polygon points="361.0,513.7 373.3,512.4 385.4,514.1 373.1,515.5" fill="#25bdb5" stroke="#25bdb5"/>
<polygon points="373.3,512.4 385.7,511.0 397.8,512.8 385.4,514.1" fill="#25bdb5" stroke="#25bdb5"/>
<polygon points="385.7,511.0 398.0,509.6 410.1,511.4 397.8,512.8" fill="#24bcb8" stroke="#24bcb8"/>
<polygon points="398.0,509.6 410.4,508.3 422.5,510.0 410.1,511.4" fill="#20babe" stroke="#20babe"/>
<polygon points="410.4,508.3 422.7,506.9 434.8,508.7 422.5,510.0" fill="#1cb7c5" stroke="#1cb7c5"/>
<polygon points="422.7,506.9 435.1,505.5 447.2,507.3 434.8,508.7" fill="#23bcb8" stroke="#23bcb8"/>
<polygon points="435.1,505.5 447.4,504.2 459.5,505.9 447.2,507.3" fill="#37c898" stroke="#37c898"/>
<polygon points="447.4,504.2 459.8,502.8 471.9,504.5 459.5,505.9" fill="#72c768" stroke="#72c768"/>
<polygon points="459.8,502.8 472.1,501.4 484.2,503.2 471.9,504.5" fill="#77c763" stroke="#77c763"/>
<polygon points="472.1,501.4 484.5,500.1 496.6,501.8 484.2,503.2" fill="#45c88c" stroke="#45c88c"/>
<polygon points="484.5,500.1 496.8,498.7 508.9,500.4 496.6,501.8" fill="#2cc1aa" stroke="#2cc1aa"/>
<polygon points="496.8,498.7 509.2,497.3 521.3,499.1 508.9,500.4" fill="#24bdb7" stroke="#24bdb7"/>
<polygon points="509.2,497.3 521.5,496.0 533.6,497.7 521.3,499.1" fill="#26bdb4" stroke="#26bdb4"/>
<polygon points="521.5,496.0 533.9,494.6 546.0,496.3 533.6,497.7" fill="#27beb2" stroke="#27beb2"/>
<polygon points="533.9,494.6 546.2,493.2 558.3,495.0 546.0,496.3" fill="#23bcb8" stroke="#23bcb8"/>
<polygon points="546.2,493.2 558.6,491.9 570.7,493.6 558.3,495.0" fill="#1ab7c7" stroke="#1ab7c7"/>
<polygon points="558.6,491.9 570.9,490.5 583.0,492.2 570.7,493.6" fill="#12b1d6" stroke="#12b1d6"/>
<polygon points="212.5,533.3 224.9,531.9 237.0,533.6 224.6,535.0" fill="#18b5cc" stroke="#18b5cc"/>
<polygon points="224.9,531.9 237.2,530.5 249.3,532.3 237.0,533.6" fill="#1ab6c8" stroke="#1ab6c8"/>
<polygon points="237.2,530.5 249.6,529.2 261.7,530.9 249.3,532.3" fill="#1db8c3" stroke="#1db8c3"/>
<polygon points="249.6,529.2 261.9,527.8 274.0,529.5 261.7,530.9" fill="#24bcb8" stroke="#24bcb8"/>
<polygon points="261.9,527.8 274.3,526.4 286.4,528.2 274.0,529.5" fill="#2fc3a5" stroke="#2fc3a5"/>
<polygon points="274.3,526.4 286.6,525.1 298.7,526.8 286.4,528.2" fill="#3fc891" stroke="#3fc891"/>
<polygon points="286.6,525.1 299.0,523.7 311.1,525.4 298.7,526.8" fill="#7dc75e" stroke="#7dc75e"/>
<polygon points="299.0,523.7 311.3,522.3 323.4,524.1 311.1,525.4" fill="#cbc539" stroke="#cbc539"/>
<polygon points="311.3,522.3 323.7,521.0 335.8,522.7 323.4,524.1" fill="#fdcc32" stroke="#fdcc32"/>
<polygon points="323.7,521.0 336.0,519.6 348.1,521.3 335.8,522.7" fill="#fdcd32" stroke="#fdcd32"/>
<polygon points="336.0,519.6 348.4,518.2 360.5,520.0 348.1,521.3" fill="#cfc538" stroke="#cfc538"/>
<polygon points="348.4,518.2 360.7,516.9 372.8,518.6 360.5,520.0" fill="#86c757" stroke="#86c757"/>
<polygon points="360.7,516.9 373.1,515.5 385.2,517.2 372.8,518.6" fill="#62c875" stroke="#62c875"/>
<polygon points="373.1,515.5 385.4,514.1 397.5,515.9 385.2,517.2" fill="#6fc769" stroke="#6fc769"/>
<polygon points="385.4,514.1 397.8,512.8 409.9,514.5 397.5,515.9" fill="#7dc75e" stroke="#7dc75e"/>
<polygon points="397.8,512.8 410.1,511.4 422.2,513.1 409.9,514.5" fill="#77c763" stroke="#77c763"/>
<polygon points="410.1,511.4 422.5,510.0 434.6,511.8 422.2,513.1" fill="#5ec878" stroke="#5ec878"/>
<polygon points="422.5,510.0 434.8,508.7 446.9,510.4 434.6,511.8" fill="#44c88c" stroke="#44c88c"/>
<polygon points="434.8,508.7 447.2,507.3 459.3,509.0 446.9,510.4" fill="#5bc87a" stroke="#5bc87a"/>
<polygon points="447.2,507.3 459.5,505.9 471.6,507.7 459.3,509.0" fill="#a3c740" stroke="#a3c740"/>
<polygon points="459.5,505.9 471.9,504.5 484.0,506.3 471.6,507.7" fill="#d8c538" stroke="#d8c538"/>
<polygon points="471.9,504.5 484.2,503.2 496.3,504.9 484.0,506.3" fill="#cfc538" stroke="#cfc538"/>
<polygon points="484.2,503.2 496.6,501.8 508.7,503.6 496.3,504.9" fill="#7bc760" stroke="#7bc760"/>
<polygon points="496.6,501.8 508.9,500.4 521.0,502.2 508.7,503.6" fill="#2dc2a7" stroke="#2dc2a7"/>
<polygon points="508.9,500.4 521.3,499.1 533.4,500.8 521.0,502.2" fill="#21babd" stroke="#21babd"/>
<polygon points="521.3,499.1 533.6,497.7 545.7,499.5 533.4,500.8" fill="#27beb2" stroke="#27beb2"/>
<polygon points="533.6,497.7 546.0,496.3 558.1,498.1 545.7,499.5" fill="#2dc2a8" stroke="#2dc2a8"/>
<polygon points="546.0,496.3 558.3,495.0 570.4,496.7 558.1,498.1" fill="#2bc1ab" stroke="#2bc1ab"/>
<polygon points="558.3,495.0 570.7,493.6 582.8,495.4 570.4,496.7" fill="#21bbbc" stroke="#21bbbc"/>
<polygon points="570.7,493.6 583.0,492.2 595.1,494.0 582.8,495.4" fill="#17b5cd" stroke="#17b5cd"/>
<polygon points="224.6,535.0 237.0,533.6 249.1,535.4 236.7,536.8" fill="#19b6c9" stroke="#19b6c9"/>
<polygon points="237.0,533.6 249.3,532.3 261.4,534.0 249.1,535.4" fill="#1cb7c5" stroke="#1cb7c5"/>
<polygon points="249.3,532.3 261.7,530.9 273.8,532.7 261.4,534.0" fill="#1eb9c0" stroke="#1eb9c0"/>
<polygon points="261.7,530.9 274.0,529.5 286.1,531.3 273.8,532.7" fill="#25bdb5" stroke="#25bdb5"/>
<polygon points="274.0,529.5 286.4,528.2 298.5,529.9 286.1,531.3" fill="#30c3a4" stroke="#30c3a4"/>
<polygon points="286.4,528.2 298.7,526.8 310.8,528.6 298.5,529.9" fill="#41c88f" stroke="#41c88f"/>
<polygon points="298.7,526.8 311.1,525.4 323.2,527.2 310.8,528.6" fill="#7ec75d" stroke="#7ec75d"/>
<polygon points="311.1,525.4 323.4,524.1 335.5,525.8 323.2,527.2" fill="#ccc539" stroke="#ccc539"/>
<polygon points="323.4,524.1 335.8,522.7 347.9,524.5 335.5,525.8" fill="#fdcd32" stroke="#fdcd32"/>
<polygon points="335.8,522.7 348.1,521.3 360.2,523.1 347.9,524.5" fill="#fdd22f" stroke="#fdd22f"/>
<polygon points="348.1,521.3 360.5,520.0 372.6,521.7 360.2,523.1" fill="#e2c438" stroke="#e2c438"/>
<polygon points="360.5,520.0 372.8,518.6 384.9,520.4 372.6,521.7" fill="#b0c739" stroke="#b0c739"/>
<polygon points="372.8,518.6 385.2,517.2 397.3,519.0 384.9,520.4" fill="#9bc746" stroke="#9bc746"/>
<polygon points="385.2,517.2 397.5,515.9 409.6,517.6 397.3,519.0" fill="#b1c739" stroke="#b1c739"/>
<polygon points="397.5,515.9 409.9,514.5 422.0,516.3 409.6,517.6" fill="#c2c639" stroke="#c2c639"/>
<polygon points="409.9,514.5 422.2,513.1 434.3,514.9 422.0,516.3" fill="#c1c639" stroke="#c1c639"/>
<polygon points="422.2,513.1 434.6,511.8 446.7,513.5 434.3,514.9" fill="#b0c739" stroke="#b0c739"/>
<polygon points="434.6,511.8 446.9,510.4 459.0,512.2 446.7,513.5" fill="#9ac747" stroke="#9ac747"/>
<polygon points="446.9,510.4 459.3,509.0 471.4,510.8 459.0,512.2" fill="#aec739" stroke="#aec739"/>
<polygon points="459.3,509.0 471.6,507.7 483.7,509.4 471.4,510.8" fill="#dfc538" stroke="#dfc538"/>
<polygon points="471.6,507.7 484.0,506.3 496.1,508.1 483.7,509.4" fill="#fdcf31" stroke="#fdcf31"/>
<polygon points="484.0,506.3 496.3,504.9 508.4,506.7 496.1,508.1" fill="#fac338" stroke="#fac338"/>
<polygon points="496.3,504.9 508.7,503.6 520.8,505.3 508.4,506.7" fill="#99c748" stroke="#99c748"/>
<polygon points="508.7,503.6 521.0,502.2 533.1,504.0 520.8,505.3" fill="#2dc2a7" stroke="#2dc2a7"/>
<polygon points="521.0,502.2 533.4,500.8 545.5,502.6 533.1,504.0" fill="#1cb7c5" stroke="#1cb7c5"/>
<polygon points="533.4,500.8 545.7,499.5 557.8,501.2 545.5,502.6" fill="#22bbbb" stroke="#22bbbb"/>
<polygon points="545.7,499.5 558.1,498.1 570.2,499.9 557.8,501.2" fill="#28bfb1" stroke="#28bfb1"/>
<polygon points="558.1,498.1 570.4,496.7 582.5,498.5 570.2,499.9" fill="#26beb3" stroke="#26beb3"/>
<polygon points="570.4,496.7 582.8,495.4 594.9,497.1 582.5,498.5" fill="#1db8c3" stroke="#1db8c3"/>
<polygon points="582.8,495.4 595.1,494.0 607.2,495.8 594.9,497.1" fill="#14b3d2" stroke="#14b3d2"/>
<polygon points="236.7,536.8 249.1,535.4 261.1,537.2 248.8,538.5" fill="#1ab6c8" stroke="#1ab6c8"/>
<polygon points="249.1,535.4 261.4,534.0 273.5,535.8 261.1,537.2" fill="#1ab6c8" stroke="#1ab6c8"/>
<polygon points="261.4,534.0 273.8,532.7 285.8,534.4 273.5,535.8" fill="#1bb7c7" stroke="#1bb7c7"/>
<polygon points="273.8,532.7 286.1,531.3 298.2,533.1 285.8,534.4" fill="#1fb9c0" stroke="#1fb9c0"/>
<polygon points="286.1,531.3 298.5,529.9 310.5,531.7 298.2,533.1" fill="#27beb3" stroke="#27beb3"/>
<polygon points="298.5,529.9 310.8,528.6 322.9,530.3 310.5,531.7" fill="#2ec3a6" stroke="#2ec3a6"/>
<polygon points="310.8,528.6 323.2,527.2 335.2,529.0 322.9,530.3" fill="#51c882" stroke="#51c882"/>
<polygon points="323.2,527.2 335.5,525.8 347.6,527.6 335.2,529.0" fill="#a5c73e" stroke="#a5c73e"/>
<polygon points="335.5,525.8 347.9,524.5 359.9,526.2 347.6,527.6" fill="#e2c438" stroke="#e2c438"/>
<polygon points="347.9,524.5 360.2,523.1 372.3,524.9 359.9,526.2" fill="#efc438" stroke="#efc438"/>
<polygon points="360.2,523.1 372.6,521.7 384.6,523.5 372.3,524.9" fill="#cfc538" stroke="#cfc538"/>
<polygon points="372.6,521.7 384.9,520.4 397.0,522.1 384.6,523.5" fill="#afc739" stroke="#afc739"/>
<polygon points="384.9,520.4 397.3,519.0 409.3,520.8 397.0,522.1" fill="#aac73a" stroke="#aac73a"/>
<polygon points="397.3,519.0 409.6,517.6 421.7,519.4 409.3,520.8" fill="#c1c639" stroke="#c1c639"/>
<polygon points="409.6,517.6 422.0,516.3 434.0,518.0 421.7,519.4" fill="#d7c538" stroke="#d7c538"/>
<polygon points="422.0,516.3 434.3,514.9 446.4,516.7 434.0,518.0" fill="#dfc538" stroke="#dfc538"/>
<polygon points="434.3,514.9 446.7,513.5 458.7,515.3 446.4,516.7" fill="#d9c538" stroke="#d9c538"/>
<polygon points="446.7,513.5 459.0,512.2 471.1,513.9 458.7,515.3" fill="#d3c538" stroke="#d3c538"/>
<polygon points="459.0,512.2 471.4,510.8 483.4,512.6 471.1,513.9" fill="#e1c538" stroke="#e1c538"/>
<polygon points="471.4,510.8 483.7,509.4 495.8,511.2 483.4,512.6" fill="#fec736" stroke="#fec736"/>
<polygon points="483.7,509.4 496.1,508.1 508.1,509.8 495.8,511.2" fill="#fcde27" stroke="#fcde27"/>
<polygon points="496.1,508.1 508.4,506.7 520.5,508.5 508.1,509.8" fill="#fec935" stroke="#fec935"/>
<polygon points="508.4,506.7 520.8,505.3 532.8,507.1 520.5,508.5" fill="#9fc743" stroke="#9fc743"/>
<polygon points="520.8,505.3 533.1,504.0 545.2,505.7 532.8,507.1" fill="#2bc1ab" stroke="#2bc1ab"/>
<polygon points="533.1,504.0 545.5,502.6 557.5,504.4 545.2,505.7" fill="#15b3d0" stroke="#15b3d0"/>
<polygon points="545.5,502.6 557.8,501.2 569.9,503.0 557.5,504.4" fill="#16b4ce" stroke="#16b4ce"/>
<polygon points="557.8,501.2 570.2,499.9 582.2,501.6 569.9,503.0" fill="#18b5cc" stroke="#18b5cc"/>
<polygon points="570.2,499.9 582.5,498.5 594.6,500.3 582.2,501.6" fill="#15b3d0" stroke="#15b3d0"/>
<polygon points="582.5,498.5 594.9,497.1 606.9,498.9 594.6,500.3" fill="#14aed9" stroke="#14aed9"/>
<polygon points="594.9,497.1 607.2,495.8 619.3,497.5 606.9,498.9" fill="#19a6df" stroke="#19a6df"/>
<polygon points="248.8,538.5 261.1,537.2 273.2,538.9 260.9,540.3" fill="#1ab6c8" stroke="#1ab6c8"/>
<polygon points="261.1,537.2 273.5,535.8 285.6,537.6 273.2,538.9" fill="#18b5cb" stroke="#18b5cb"/>
<polygon points="273.5,535.8 285.8,534.4 297.9,536.2 285.6,537.6" fill="#17b4cd" stroke="#17b4cd"/>
<polygon points="285.8,534.4 298.2,533.1 310.3,534.8 297.9,536.2" fill="#18b5cb" stroke="#18b5cb"/>
<polygon points="298.2,533.1 310.5,531.7 322.6,533.5 310.3,534.8" fill="#1db8c2" stroke="#1db8c2"/>
<polygon points="310.5,531.7 322.9,530.3 335.0,532.1 322.6,533.5" fill="#22bbba" stroke="#22bbba"/>
<polygon points="322.9,530.3 335.2,529.0 347.3,530.7 335.0,532.1" fill="#31c4a1" stroke="#31c4a1"/>
<polygon points="335.2,529.0 347.6,527.6 359.7,529.4 347.3,530.7" fill="#70c769" stroke="#70c769"/>
<polygon points="347.6,527.6 359.9,526.2 372.0,528.0 359.7,529.4" fill="#b7c639" stroke="#b7c639"/>
<polygon points="359.9,526.2 372.3,524.9 384.4,526.6 372.0,528.0" fill="#cbc539" stroke="#cbc539"/>
<polygon points="372.3,524.9 384.6,523.5 396.7,525.3 384.4,526.6" fill="#bcc639" stroke="#bcc639"/>
<polygon points="384.6,523.5 397.0,522.1 409.1,523.9 396.7,525.3" fill="#aec739" stroke="#aec739"/>
<polygon points="397.0,522.1 409.3,520.8 421.4,522.5 409.1,523.9" fill="#b5c639" stroke="#b5c639"/>
<polygon points="409.3,520.8 421.7,519.4 433.8,521.2 421.4,522.5" fill="#d1c538" stroke="#d1c538"/>
<polygon points="421.7,519.4 434.0,518.0 446.1,519.8 433.8,521.2" fill="#edc438" stroke="#edc438"/>
<polygon points="434.0,518.0 446.4,516.7 458.5,518.4 446.1,519.8" fill="#fdc338" stroke="#fdc338"/>
<polygon points="446.4,516.7 458.7,515.3 470.8,517.1 458.5,518.4" fill="#fec637" stroke="#fec637"/>
<polygon points="458.7,515.3 471.1,513.9 483.2,515.7 470.8,517.1" fill="#fec935" stroke="#fec935"/>
<polygon points="471.1,513.9 483.4,512.6 495.5,514.3 483.2,515.7" fill="#fdd22f" stroke="#fdd22f"/>
<polygon points="483.4,512.6 495.8,511.2 507.9,513.0 495.5,514.3" fill="#fce026" stroke="#fce026"/>
<polygon points="495.8,511.2 508.1,509.8 520.2,511.6 507.9,513.0" fill="#faee1d" stroke="#faee1d"/>
<polygon points="508.1,509.8 520.5,508.5 532.6,510.2 520.2,511.6" fill="#fdd12f" stroke="#fdd12f"/>
<polygon points="520.5,508.5 532.8,507.1 544.9,508.9 532.6,510.2" fill="#a5c73e" stroke="#a5c73e"/>
<polygon points="532.8,507.1 545.2,505.7 557.3,507.5 544.9,508.9" fill="#29c0ae" stroke="#29c0ae"/>
<polygon points="545.2,505.7 557.5,504.4 569.6,506.1 557.3,507.5" fill="#13aed8" stroke="#13aed8"/>
<polygon points="557.5,504.4 569.9,503.0 582.0,504.8 569.6,506.1" fill="#16aadc" stroke="#16aadc"/>
<polygon points="569.9,503.0 582.2,501.6 594.3,503.4 582.0,504.8" fill="#19a6df" stroke="#19a6df"/>
<polygon points="582.2,501.6 594.6,500.3 606.7,502.0 594.3,503.4" fill="#1ca1e2" stroke="#1ca1e2"/>
<polygon points="594.6,500.3 606.9,498.9 619.0,500.7 606.7,502.0" fill="#1f9de6" stroke="#1f9de6"/>
<polygon points="606.9,498.9 619.3,497.5 631.4,499.3 619.0,500.7" fill="#2298e9" stroke="#2298e9"/>
<polygon points="260.9,540.3 273.2,538.9 285.3,540.7 273.0,542.0" fill="#18b5cb" stroke="#18b5cb"/>
<polygon points="273.2,538.9 285.6,537.6 297.7,539.3 285.3,540.7" fill="#15b3d0" stroke="#15b3d0"/>
<polygon points="285.6,537.6 297.9,536.2 310.0,537.9 297.7,539.3" fill="#13b2d4" stroke="#13b2d4"/>
<polygon points="297.9,536.2 310.3,534.8 322.4,536.6 310.0,537.9" fill="#13b2d3" stroke="#13b2d3"/>
<polygon points="310.3,534.8 322.6,533.5 334.7,535.2 322.4,536.6" fill="#17b4cd" stroke="#17b4cd"/>
<polygon points="322.6,533.5 335.0,532.1 347.1,533.8 334.7,535.2" fill="#1ab6c7" stroke="#1ab6c7"/>
<polygon points="335.0,532.1 347.3,530.7 359.4,532.5 347.1,533.8" fill="#25bdb5" stroke="#25bdb5"/>
<polygon points="347.3,530.7 359.7,529.4 371.8,531.1 359.4,532.5" fill="#3bc894" stroke="#3bc894"/>
<polygon points="359.7,529.4 372.0,528.0 384.1,529.7 371.8,531.1" fill="#76c764" stroke="#76c764"/>
<polygon points="372.0,528.0 384.4,526.6 396.5,528.4 384.1,529.7" fill="#90c74f" stroke="#90c74f"/>
<polygon points="384.4,526.6 396.7,525.3 408.8,527.0 396.5,528.4" fill="#8bc753" stroke="#8bc753"/>
<polygon points="396.7,525.3 409.1,523.9 421.2,525.6 408.8,527.0" fill="#85c758" stroke="#85c758"/>
<polygon points="409.1,523.9 421.4,522.5 433.5,524.3 421.2,525.6" fill="#94c74c" stroke="#94c74c"/>
<polygon points="421.4,522.5 433.8,521.2 445.9,522.9 433.5,524.3" fill="#b4c639" stroke="#b4c639"/>
<polygon points="433.8,521.2 446.1,519.8 458.2,521.5 445.9,522.9" fill="#cec538" stroke="#cec538"/>
<polygon points="446.1,519.8 458.5,518.4 470.6,520.2 458.2,521.5" fill="#e4c438" stroke="#e4c438"/>
<polygon points="458.5,518.4 470.8,517.1 482.9,518.8 470.6,520.2" fill="#f6c438" stroke="#f6c438"/>
<polygon points="470.8,517.1 483.2,515.7 495.3,517.4 482.9,518.8" fill="#feca34" stroke="#feca34"/>
<polygon points="483.2,515.7 495.5,514.3 507.6,516.1 495.3,517.4" fill="#fcd62c" stroke="#fcd62c"/>
<polygon points="495.5,514.3 507.9,513.0 520.0,514.7 507.6,516.1" fill="#fbe224" stroke="#fbe224"/>
<polygon points="507.9,513.0 520.2,511.6 532.3,513.3 520.0,514.7" fill="#faee1d" stroke="#faee1d"/>
<polygon points="520.2,511.6 532.6,510.2 544.7,512.0 532.3,513.3" fill="#fdd030" stroke="#fdd030"/>
<polygon points="532.6,510.2 544.9,508.9 557.0,510.6 544.7,512.0" fill="#a4c73e" stroke="#a4c73e"/>
<polygon points="544.9,508.9 557.3,507.5 569.4,509.2 557.0,510.6" fill="#2ac0ad" stroke="#2ac0ad"/>
<polygon points="557.3,507.5 569.6,506.1 581.7,507.9 569.4,509.2" fill="#14add9" stroke="#14add9"/>
<polygon points="569.6,506.1 582.0,504.8 594.1,506.5 581.7,507.9" fill="#1ba3e1" stroke="#1ba3e1"/>
<polygon points="582.0,504.8 594.3,503.4 606.4,505.1 594.1,506.5" fill="#219ae8" stroke="#219ae8"/>
<polygon points="594.3,503.4 606.7,502.0 618.8,503.8 606.4,505.1" fill="#2593ed" stroke="#2593ed"/>
<polygon points="606.7,502.0 619.0,500.7 631.1,502.4 618.8,503.8" fill="#288ff0" stroke="#288ff0"/>
<polygon points="619.0,500.7 631.4,499.3 643.5,501.0 631.1,502.4" fill="#2b8bf4" stroke="#2b8bf4"/>
<polygon points="273.0,542.0 285.3,540.7 297.4,542.4 285.1,543.8" fill="#13b2d4" stroke="#13b2d4"/>
<polygon points="285.3,540.7 297.7,539.3 309.8,541.1 297.4,542.4" fill="#12b0d7" stroke="#12b0d7"/>
<polygon points="297.7,539.3 310.0,537.9 322.1,539.7 309.8,541.1" fill="#14aed9" stroke="#14aed9"/>
<polygon points="310.0,537.9 322.4,536.6 334.5,538.3 322.1,539.7" fill="#13aed8" stroke="#13aed8"/>
<polygon points="322.4,536.6 334.7,535.2 346.8,537.0 334.5,538.3" fill="#13b2d4" stroke="#13b2d4"/>
<polygon points="334.7,535.2 347.1,533.8 359.2,535.6 346.8,537.0" fill="#16b4cf" stroke="#16b4cf"/>
<polygon points="347.1,533.8 359.4,532.5 371.5,534.2 359.2,535.6" fill="#1db8c3" stroke="#1db8c3"/>
<polygon points="359.4,532.5 371.8,531.1 383.9,532.9 371.5,534.2" fill="#27beb1" stroke="#27beb1"/>
<polygon points="371.8,531.1 384.1,529.7 396.2,531.5 383.9,532.9" fill="#32c5a0" stroke="#32c5a0"/>
<polygon points="384.1,529.7 396.5,528.4 408.6,530.1 396.2,531.5" fill="#37c897" stroke="#37c897"/>
<polygon points="396.5,528.4 408.8,527.0 420.9,528.8 408.6,530.1" fill="#36c799" stroke="#36c799"/>
<polygon points="408.8,527.0 421.2,525.6 433.3,527.4 420.9,528.8" fill="#35c79a" stroke="#35c79a"/>
<polygon points="421.2,525.6 433.5,524.3 445.6,526.0 433.3,527.4" fill="#3bc894" stroke="#3bc894"/>
<polygon points="433.5,524.3 445.9,522.9 458.0,524.7 445.6,526.0" fill="#51c882" stroke="#51c882"/>
<polygon points="445.9,522.9 458.2,521.5 470.3,523.3 458.0,524.7" fill="#66c771" stroke="#66c771"/>
<polygon points="458.2,521.5 470.6,520.2 482.7,521.9 470.3,523.3" fill="#89c754" stroke="#89c754"/>
<polygon points="470.6,520.2 482.9,518.8 495.0,520.6 482.7,521.9" fill="#b6c639" stroke="#b6c639"/>
<polygon points="482.9,518.8 495.3,517.4 507.4,519.2 495.0,520.6" fill="#d9c538" stroke="#d9c538"/>
<polygon points="495.3,517.4 507.6,516.1 519.7,517.8 507.4,519.2" fill="#f7c438" stroke="#f7c438"/>
<polygon points="507.6,516.1 520.0,514.7 532.1,516.5 519.7,517.8" fill="#fdce31" stroke="#fdce31"/>
<polygon points="520.0,514.7 532.3,513.3 544.4,515.1 532.1,516.5" fill="#fcde27" stroke="#fcde27"/>
<polygon points="532.3,513.3 544.7,512.0 556.8,513.7 544.4,515.1" fill="#fec636" stroke="#fec636"/>
<polygon points="544.7,512.0 557.0,510.6 569.1,512.4 556.8,513.7" fill="#9fc743" stroke="#9fc743"/>
<polygon points="557.0,510.6 569.4,509.2 581.5,511.0 569.1,512.4" fill="#2dc2a8" stroke="#2dc2a8"/>
<polygon points="569.4,509.2 581.7,507.9 593.8,509.6 581.5,511.0" fill="#12b1d6" stroke="#12b1d6"/>
<polygon points="581.7,507.9 594.1,506.5 606.2,508.3 593.8,509.6" fill="#1ba3e1" stroke="#1ba3e1"/>
<polygon points="594.1,506.5 606.4,505.1 618.5,506.9 606.2,508.3" fill="#2495ec" stroke="#2495ec"/>
<polygon points="606.4,505.1 618.8,503.8 630.9,505.5 618.5,506.9" fill="#2b8bf4" stroke="#2b8bf4"/>
<polygon points="618.8,503.8 631.1,502.4 643.2,504.2 630.9,505.5" fill="#2f84f7" stroke="#2f84f7"/>
<polygon points="631.1,502.4 643.5,501.0 655.6,502.8 643.2,504.2" fill="#337cf6" stroke="#337cf6"/>
<polygon points="285.1,543.8 297.4,542.4 309.5,544.2 297.2,545.6" fill="#14add9" stroke="#14add9"/>
<polygon points="297.4,542.4 309.8,541.1 321.9,542.8 309.5,544.2" fill="#15abdb" stroke="#15abdb"/>
<polygon points="309.8,541.1 322.1,539.7 334.2,541.5 321.9,542.8" fill="#17a9dc" stroke="#17a9dc"/>
<polygon points="322.1,539.7 334.5,538.3 346.6,540.1 334.2,541.5" fill="#16aadc" stroke="#16aadc"/>
<polygon points="334.5,538.3 346.8,537.0 358.9,538.7 346.6,540.1" fill="#14aed9" stroke="#14aed9"/>
<polygon points="346.8,537.0 359.2,535.6 371.3,537.4 358.9,538.7" fill="#12b1d6" stroke="#12b1d6"/>
<polygon points="359.2,535.6 371.5,534.2 383.6,536.0 371.3,537.4" fill="#14b3d1" stroke="#14b3d1"/>
<polygon points="371.5,534.2 383.9,532.9 396.0,534.6 383.6,536.0" fill="#16b4ce" stroke="#16b4ce"/>
<polygon points="383.9,532.9 396.2,531.5 408.3,533.3 396.0,534.6" fill="#19b5ca" stroke="#19b5ca"/>
<polygon points="396.2,531.5 408.6,530.1 420.7,531.9 408.3,533.3" fill="#1ab6c8" stroke="#1ab6c8"/>
<polygon points="408.6,530.1 420.9,528.8 433.0,530.5 420.7,531.9" fill="#1ab6c8" stroke="#1ab6c8"/>
<polygon points="420.9,528.8 433.3,527.4 445.4,529.2 433.0,530.5" fill="#1ab7c7" stroke="#1ab7c7"/>
<polygon points="433.3,527.4 445.6,526.0 457.7,527.8 445.4,529.2" fill="#1cb7c5" stroke="#1cb7c5"/>
<polygon points="445.6,526.0 458.0,524.7 470.1,526.4 457.7,527.8" fill="#1eb9c1" stroke="#1eb9c1"/>
<polygon points="458.0,524.7 470.3,523.3 482.4,525.1 470.1,526.4" fill="#20babd" stroke="#20babd"/>
<polygon points="470.3,523.3 482.7,521.9 494.8,523.7 482.4,525.1" fill="#2dc2a8" stroke="#2dc2a8"/>
<polygon points="482.7,521.9 495.0,520.6 507.1,522.3 494.8,523.7" fill="#61c875" stroke="#61c875"/>
<polygon points="495.0,520.6 507.4,519.2 519.5,521.0 507.1,522.3" fill="#a9c73b" stroke="#a9c73b"/>
<polygon points="507.4,519.2 519.7,517.8 531.8,519.6 519.5,521.0" fill="#d2c538" stroke="#d2c538"/>
<polygon points="519.7,517.8 532.1,516.5 544.2,518.2 531.8,519.6" fill="#f0c438" stroke="#f0c438"/>
<polygon points="532.1,516.5 544.4,515.1 556.5,516.9 544.2,518.2" fill="#fdce31" stroke="#fdce31"/>
<polygon points="544.4,515.1 556.8,513.7 568.9,515.5 556.5,516.9" fill="#f3c438" stroke="#f3c438"/>
<polygon points="556.8,513.7 569.1,512.4 581.2,514.1 568.9,515.5" fill="#99c748" stroke="#99c748"/>
<polygon points="569.1,512.4 581.5,511.0 593.6,512.8 581.2,514.1" fill="#30c4a3" stroke="#30c4a3"/>
<polygon points="581.5,511.0 593.8,509.6 605.9,511.4 593.6,512.8" fill="#15b3d1" stroke="#15b3d1"/>
<polygon points="593.8,509.6 606.2,508.3 618.3,510.0 605.9,511.4" fill="#1ca2e2" stroke="#1ca2e2"/>
<polygon points="606.2,508.3 618.5,506.9 630.6,508.7 618.3,510.0" fill="#288ff0" stroke="#288ff0"/>
<polygon points="618.5,506.9 630.9,505.5 643.0,507.3 630.6,508.7" fill="#3181f7" stroke="#3181f7"/>
<polygon points="630.9,505.5 643.2,504.2 655.3,505.9 643.0,507.3" fill="#3677f6" stroke="#3677f6"/>
<polygon points="643.2,504.2 655.6,502.8 667.7,504.6 655.3,505.9" fill="#3b6df6" stroke="#3b6df6"/>
<polygon points="297.2,545.6 309.5,544.2 321.6,546.0 309.3,547.3" fill="#17a9dc" stroke="#17a9dc"/>
<polygon points="309.5,544.2 321.9,542.8 334.0,544.6 321.6,546.0" fill="#17a9dd" stroke="#17a9dd"/>
<polygon points="321.9,542.8 334.2,541.5 346.3,543.2 334.0,544.6" fill="#17a8dd" stroke="#17a8dd"/>
<polygon points="334.2,541.5 346.6,540.1 358.7,541.9 346.3,543.2" fill="#16aadc" stroke="#16aadc"/>
<polygon points="346.6,540.1 358.9,538.7 371.0,540.5 358.7,541.9" fill="#14add9" stroke="#14add9"/>
<polygon points="358.9,538.7 371.3,537.4 383.4,539.1 371.0,540.5" fill="#12b1d7" stroke="#12b1d7"/>
<polygon points="371.3,537.4 383.6,536.0 395.7,537.8 383.4,539.1" fill="#12b1d6" stroke="#12b1d6"/>
<polygon points="383.6,536.0 396.0,534.6 408.1,536.4 395.7,537.8" fill="#14aed9" stroke="#14aed9"/>
<polygon points="396.0,534.6 408.3,533.3 420.4,535.0 408.1,536.4" fill="#16abdb" stroke="#16abdb"/>
<polygon points="408.3,533.3 420.7,531.9 432.8,533.7 420.4,535.0" fill="#17a9dc" stroke="#17a9dc"/>
<polygon points="420.7,531.9 433.0,530.5 445.1,532.3 432.8,533.7" fill="#17a9dc" stroke="#17a9dc"/>
<polygon points="433.0,530.5 445.4,529.2 457.5,530.9 445.1,532.3" fill="#17a9dd" stroke="#17a9dd"/>
<polygon points="445.4,529.2 457.7,527.8 469.8,529.6 457.5,530.9" fill="#17a9dd" stroke="#17a9dd"/>
<polygon points="457.7,527.8 470.1,526.4 482.2,528.2 469.8,529.6" fill="#17a9dd" stroke="#17a9dd"/>
<polygon points="470.1,526.4 482.4,525.1 494.5,526.8 482.2,528.2" fill="#17a9dd" stroke="#17a9dd"/>
<polygon points="482.4,525.1 494.8,523.7 506.9,525.5 494.5,526.8" fill="#16b4cf" stroke="#16b4cf"/>
<polygon points="494.8,523.7 507.1,522.3 519.2,524.1 506.9,525.5" fill="#2ec2a7" stroke="#2ec2a7"/>
<polygon points="507.1,522.3 519.5,521.0 531.6,522.7 519.2,524.1" fill="#64c872" stroke="#64c872"/>
<polygon points="519.5,521.0 531.8,519.6 543.9,521.4 531.6,522.7" fill="#9ec744" stroke="#9ec744"/>
<polygon points="531.8,519.6 544.2,518.2 556.3,520.0 543.9,521.4" fill="#bec639" stroke="#bec639"/>
<polygon points="544.2,518.2 556.5,516.9 568.6,518.6 556.3,520.0" fill="#dbc538" stroke="#dbc538"/>
<polygon points="556.5,516.9 568.9,515.5 581.0,517.3 568.6,518.6" fill="#cac539" stroke="#cac539"/>
<polygon points="568.9,515.5 581.2,514.1 593.3,515.9 581.0,517.3" fill="#7cc75f" stroke="#7cc75f"/>
<polygon points="581.2,514.1 593.6,512.8 605.7,514.5 593.3,515.9" fill="#30c4a3" stroke="#30c4a3"/>
<polygon points="593.6,512.8 605.9,511.4 618.0,513.2 605.7,514.5" fill="#19b6c9" stroke="#19b6c9"/>
<polygon points="605.9,511.4 618.3,510.0 630.4,511.8 618.0,513.2" fill="#18a8de" stroke="#18a8de"/>
<polygon points="618.3,510.0 630.6,508.7 642.7,510.4 630.4,511.8" fill="#2495ec" stroke="#2495ec"/>
<polygon points="630.6,508.7 643.0,507.3 655.1,509.1 642.7,510.4" fill="#2e87f7" stroke="#2e87f7"/>
<polygon points="643.0,507.3 655.3,505.9 667.4,507.7 655.1,509.1" fill="#347af6" stroke="#347af6"/>
<polygon points="655.3,505.9 667.7,504.6 679.8,506.3 667.4,507.7" fill="#3b6df6" stroke="#3b6df6"/>
<polygon points="309.3,547.3 321.6,546.0 333.7,547.7 321.4,549.1" fill="#19a5df" stroke="#19a5df"/>
<polygon points="321.6,546.0 334.0,544.6 346.1,546.4 333.7,547.7" fill="#17a8dd" stroke="#17a8dd"/>
<polygon points="334.0,544.6 346.3,543.2 358.4,545.0 346.1,546.4" fill="#15abdb" stroke="#15abdb"/>
<polygon points="346.3,543.2 358.7,541.9 370.8,543.6 358.4,545.0" fill="#14aed8" stroke="#14aed8"/>
<polygon points="358.7,541.9 371.0,540.5 383.1,542.3 370.8,543.6" fill="#12b1d6" stroke="#12b1d6"/>
<polygon points="371.0,540.5 383.4,539.1 395.5,540.9 383.1,542.3" fill="#14b3d2" stroke="#14b3d2"/>
<polygon points="383.4,539.1 395.7,537.8 407.8,539.5 395.5,540.9" fill="#13b2d3" stroke="#13b2d3"/>
<polygon points="395.7,537.8 408.1,536.4 420.2,538.2 407.8,539.5" fill="#13afd8" stroke="#13afd8"/>
<polygon points="408.1,536.4 420.4,535.0 432.5,536.8 420.2,538.2" fill="#16aadb" stroke="#16aadb"/>
<polygon points="420.4,535.0 432.8,533.7 444.9,535.4 432.5,536.8" fill="#18a7de" stroke="#18a7de"/>
<polygon points="432.8,533.7 445.1,532.3 457.2,534.1 444.9,535.4" fill="#1aa5e0" stroke="#1aa5e0"/>
<polygon points="445.1,532.3 457.5,530.9 469.6,532.7 457.2,534.1" fill="#1ba2e2" stroke="#1ba2e2"/>
<polygon points="457.5,530.9 469.8,529.6 481.9,531.3 469.6,532.7" fill="#1ca1e3" stroke="#1ca1e3"/>
<polygon points="469.8,529.6 482.2,528.2 494.3,530.0 481.9,531.3" fill="#1ca1e3" stroke="#1ca1e3"/>
<polygon points="482.2,528.2 494.5,526.8 506.6,528.6 494.3,530.0" fill="#1da1e3" stroke="#1da1e3"/>
<polygon points="494.5,526.8 506.9,525.5 519.0,527.2 506.6,528.6" fill="#16aadb" stroke="#16aadb"/>
<polygon points="506.9,525.5 519.2,524.1 531.3,525.9 519.0,527.2" fill="#1db8c2" stroke="#1db8c2"/>
<polygon points="519.2,524.1 531.6,522.7 543.7,524.5 531.3,525.9" fill="#2fc3a5" stroke="#2fc3a5"/>
<polygon points="531.6,522.7 543.9,521.4 556.0,523.1 543.7,524.5" fill="#48c88a" stroke="#48c88a"/>
<polygon points="543.9,521.4 556.3,520.0 568.4,521.8 556.0,523.1" fill="#65c772" stroke="#65c772"/>
<polygon points="556.3,520.0 568.6,518.6 580.7,520.4 568.4,521.8" fill="#82c75b" stroke="#82c75b"/>
<polygon points="568.6,518.6 581.0,517.3 593.1,519.0 580.7,520.4" fill="#78c762" stroke="#78c762"/>
<polygon points="581.0,517.3 593.3,515.9 605.4,517.7 593.1,519.0" fill="#48c889" stroke="#48c889"/>
<polygon points="593.3,515.9 605.7,514.5 617.8,516.3 605.4,517.7" fill="#2dc2a8" stroke="#2dc2a8"/>
<polygon points="605.7,514.5 618.0,513.2 630.1,514.9 617.8,516.3" fill="#1fbabf" stroke="#1fbabf"/>
<polygon points="618.0,513.2 630.4,511.8 642.5,513.5 630.1,514.9" fill="#14b2d3" stroke="#14b2d3"/>
<polygon points="630.4,511.8 642.7,510.4 654.8,512.2 642.5,513.5" fill="#19a6df" stroke="#19a6df"/>
<polygon points="642.7,510.4 655.1,509.1 667.2,510.8 654.8,512.2" fill="#2299e9" stroke="#2299e9"/>
<polygon points="655.1,509.1 667.4,507.7 679.5,509.4 667.2,510.8" fill="#2a8cf3" stroke="#2a8cf3"/>
<polygon points="667.4,507.7 679.8,506.3 691.9,508.1 679.5,509.4" fill="#327df6" stroke="#327df6"/>
<polygon points="321.4,549.1 333.7,547.7 345.8,549.5 333.4,550.8" fill="#1ca2e2" stroke="#1ca2e2"/>
<polygon points="333.7,547.7 346.1,546.4 358.1,548.1 345.8,549.5" fill="#18a8dd" stroke="#18a8dd"/>
<polygon points="346.1,546.4 358.4,545.0 370.5,546.7 358.1,548.1" fill="#14aed8" stroke="#14aed8"/>
<polygon points="358.4,545.0 370.8,543.6 382.8,545.4 370.5,546.7" fill="#13b2d4" stroke="#13b2d4"/>
<polygon points="370.8,543.6 383.1,542.3 395.2,544.0 382.8,545.4" fill="#15b3d1" stroke="#15b3d1"/>
<polygon points="383.1,542.3 395.5,540.9 407.5,542.6 395.2,544.0" fill="#17b4cd" stroke="#17b4cd"/>
<polygon points="395.5,540.9 407.8,539.5 419.9,541.3 407.5,542.6" fill="#15b3d0" stroke="#15b3d0"/>
<polygon points="407.8,539.5 420.2,538.2 432.2,539.9 419.9,541.3" fill="#13b0d7" stroke="#13b0d7"/>
<polygon points="420.2,538.2 432.5,536.8 444.6,538.5 432.2,539.9" fill="#16aadc" stroke="#16aadc"/>
<polygon points="432.5,536.8 444.9,535.4 456.9,537.2 444.6,538.5" fill="#1aa5e0" stroke="#1aa5e0"/>
<polygon points="444.9,535.4 457.2,534.1 469.3,535.8 456.9,537.2" fill="#1da0e3" stroke="#1da0e3"/>
<polygon points="457.2,534.1 469.6,532.7 481.6,534.4 469.3,535.8" fill="#209ce7" stroke="#209ce7"/>
<polygon points="469.6,532.7 481.9,531.3 494.0,533.1 481.6,534.4" fill="#2199e9" stroke="#2199e9"/>
<polygon points="481.9,531.3 494.3,530.0 506.3,531.7 494.0,533.1" fill="#2299e9" stroke="#2299e9"/>
<polygon points="494.3,530.0 506.6,528.6 518.7,530.3 506.3,531.7" fill="#2299e9" stroke="#2299e9"/>
<polygon points="506.6,528.6 519.0,527.2 531.0,529.0 518.7,530.3" fill="#1e9fe4" stroke="#1e9fe4"/>
<polygon points="519.0,527.2 531.3,525.9 543.4,527.6 531.0,529.0" fill="#15acda" stroke="#15acda"/>
<polygon points="531.3,525.9 543.7,524.5 555.7,526.2 543.4,527.6" fill="#18b5cb" stroke="#18b5cb"/>
<polygon points="543.7,524.5 556.0,523.1 568.1,524.9 555.7,526.2" fill="#21babd" stroke="#21babd"/>
<polygon points="556.0,523.1 568.4,521.8 580.4,523.5 568.1,524.9" fill="#26beb3" stroke="#26beb3"/>
<polygon points="568.4,521.8 580.7,520.4 592.8,522.1 580.4,523.5" fill="#2cc1aa" stroke="#2cc1aa"/>
<polygon points="580.7,520.4 593.1,519.0 605.1,520.8 592.8,522.1" fill="#2ec2a7" stroke="#2ec2a7"/>
<polygon points="593.1,519.0 605.4,517.7 617.5,519.4 605.1,520.8" fill="#2cc1aa" stroke="#2cc1aa"/>
<polygon points="605.4,517.7 617.8,516.3 629.8,518.0 617.5,519.4" fill="#2ac0ad" stroke="#2ac0ad"/>
<polygon points="617.8,516.3 630.1,514.9 642.2,516.7 629.8,518.0" fill="#25bdb5" stroke="#25bdb5"/>
<polygon points="630.1,514.9 642.5,513.5 654.5,515.3 642.2,516.7" fill="#1eb9c1" stroke="#1eb9c1"/>
<polygon points="642.5,513.5 654.8,512.2 666.9,513.9 654.5,515.3" fill="#17b4cd" stroke="#17b4cd"/>
<polygon points="654.8,512.2 667.2,510.8 679.2,512.6 666.9,513.9" fill="#15abdb" stroke="#15abdb"/>
<polygon points="667.2,510.8 679.5,509.4 691.6,511.2 679.2,512.6" fill="#209ce7" stroke="#209ce7"/>
<polygon points="679.5,509.4 691.9,508.1 703.9,509.8 691.6,511.2" fill="#2a8cf3" stroke="#2a8cf3"/>
<polygon points="333.4,550.8 345.8,549.5 357.9,551.2 345.5,552.6" fill="#18a7de" stroke="#18a7de"/>
<polygon points="345.8,549.5 358.1,548.1 370.2,549.9 357.9,551.2" fill="#13b0d7" stroke="#13b0d7"/>
<polygon points="358.1,548.1 370.5,546.7 382.6,548.5 370.2,549.9" fill="#18b5cb" stroke="#18b5cb"/>
<polygon points="370.5,546.7 382.8,545.4 394.9,547.1 382.6,548.5" fill="#1fbabf" stroke="#1fbabf"/>
<polygon points="382.8,545.4 395.2,544.0 407.3,545.8 394.9,547.1" fill="#26beb4" stroke="#26beb4"/>
<polygon points="395.2,544.0 407.5,542.6 419.6,544.4 407.3,545.8" fill="#2dc2a8" stroke="#2dc2a8"/>
<polygon points="407.5,542.6 419.9,541.3 432.0,543.0 419.6,544.4" fill="#2dc2a8" stroke="#2dc2a8"/>
<polygon points="419.9,541.3 432.2,539.9 444.3,541.7 432.0,543.0" fill="#27beb2" stroke="#27beb2"/>
<polygon points="432.2,539.9 444.6,538.5 456.7,540.3 444.3,541.7" fill="#21babd" stroke="#21babd"/>
<polygon points="444.6,538.5 456.9,537.2 469.0,538.9 456.7,540.3" fill="#19b6c9" stroke="#19b6c9"/>
<polygon points="456.9,537.2 469.3,535.8 481.4,537.6 469.0,538.9" fill="#12b1d6" stroke="#12b1d6"/>
<polygon points="469.3,535.8 481.6,534.4 493.7,536.2 481.4,537.6" fill="#18a7de" stroke="#18a7de"/>
<polygon points="481.6,534.4 494.0,533.1 506.1,534.8 493.7,536.2" fill="#1ca2e2" stroke="#1ca2e2"/>
<polygon points="494.0,533.1 506.3,531.7 518.4,533.5 506.1,534.8" fill="#1ca1e3" stroke="#1ca1e3"/>
<polygon points="506.3,531.7 518.7,530.3 530.8,532.1 518.4,533.5" fill="#1d9fe4" stroke="#1d9fe4"/>
<polygon points="518.7,530.3 531.0,529.0 543.1,530.7 530.8,532.1" fill="#1ba3e1" stroke="#1ba3e1"/>
<polygon points="531.0,529.0 543.4,527.6 555.5,529.4 543.1,530.7" fill="#16abdb" stroke="#16abdb"/>
<polygon points="543.4,527.6 555.7,526.2 567.8,528.0 555.5,529.4" fill="#13b2d4" stroke="#13b2d4"/>
<polygon points="555.7,526.2 568.1,524.9 580.2,526.6 567.8,528.0" fill="#1bb7c6" stroke="#1bb7c6"/>
<polygon points="568.1,524.9 580.4,523.5 592.5,525.3 580.2,526.6" fill="#25bdb6" stroke="#25bdb6"/>
<polygon points="580.4,523.5 592.8,522.1 604.9,523.9 592.5,525.3" fill="#2fc3a5" stroke="#2fc3a5"/>
<polygon points="592.8,522.1 605.1,520.8 617.2,522.5 604.9,523.9" fill="#35c79a" stroke="#35c79a"/>
<polygon points="605.1,520.8 617.5,519.4 629.6,521.2 617.2,522.5" fill="#3ec891" stroke="#3ec891"/>
<polygon points="617.5,519.4 629.8,518.0 641.9,519.8 629.6,521.2" fill="#4bc887" stroke="#4bc887"/>
<polygon points="629.8,518.0 642.2,516.7 654.3,518.4 641.9,519.8" fill="#42c88e" stroke="#42c88e"/>
<polygon points="642.2,516.7 654.5,515.3 666.6,517.1 654.3,518.4" fill="#31c4a2" stroke="#31c4a2"/>
<polygon points="654.5,515.3 666.9,513.9 679.0,515.7 666.6,517.1" fill="#27beb2" stroke="#27beb2"/>
<polygon points="666.9,513.9 679.2,512.6 691.3,514.3 679.0,515.7" fill="#1bb7c5" stroke="#1bb7c5"/>
<polygon points="679.2,512.6 691.6,511.2 703.7,513.0 691.3,514.3" fill="#14add9" stroke="#14add9"/>
<polygon points="691.6,511.2 703.9,509.8 716.0,511.6 703.7,513.0" fill="#1e9ee5" stroke="#1e9ee5"/>
<polygon points="345.5,552.6 357.9,551.2 370.0,553.0 357.6,554.4" fill="#14b3d1" stroke="#14b3d1"/>
<polygon points="357.9,551.2 370.2,549.9 382.3,551.6 370.0,553.0" fill="#1eb9c1" stroke="#1eb9c1"/>
<polygon points="370.2,549.9 382.6,548.5 394.7,550.3 382.3,551.6" fill="#28bfb1" stroke="#28bfb1"/>
<polygon points="382.6,548.5 394.9,547.1 407.0,548.9 394.7,550.3" fill="#35c79b" stroke="#35c79b"/>
<polygon points="394.9,547.1 407.3,545.8 419.4,547.5 407.0,548.9" fill="#62c874" stroke="#62c874"/>
<polygon points="407.3,545.8 419.6,544.4 431.7,546.2 419.4,547.5" fill="#95c74b" stroke="#95c74b"/>
<polygon points="419.6,544.4 432.0,543.0 444.1,544.8 431.7,546.2" fill="#a4c73f" stroke="#a4c73f"/>
<polygon points="432.0,543.0 444.3,541.7 456.4,543.4 444.1,544.8" fill="#8ec751" stroke="#8ec751"/>
<polygon points="444.3,541.7 456.7,540.3 468.8,542.1 456.4,543.4" fill="#78c763" stroke="#78c763"/>
<polygon points="456.7,540.3 469.0,538.9 481.1,540.7 468.8,542.1" fill="#56c87e" stroke="#56c87e"/>
<polygon points="469.0,538.9 481.4,537.6 493.5,539.3 481.1,540.7" fill="#32c59f" stroke="#32c59f"/>
<polygon points="481.4,537.6 493.7,536.2 505.8,538.0 493.5,539.3" fill="#23bcb9" stroke="#23bcb9"/>
<polygon points="493.7,536.2 506.1,534.8 518.2,536.6 505.8,538.0" fill="#1ab7c7" stroke="#1ab7c7"/>
<polygon points="506.1,534.8 518.4,533.5 530.5,535.2 518.2,536.6" fill="#18b5cc" stroke="#18b5cc"/>
<polygon points="518.4,533.5 530.8,532.1 542.9,533.9 530.5,535.2" fill="#15b3d0" stroke="#15b3d0"/>
<polygon points="530.8,532.1 543.1,530.7 555.2,532.5 542.9,533.9" fill="#16b4cf" stroke="#16b4cf"/>
<polygon points="543.1,530.7 555.5,529.4 567.6,531.1 555.2,532.5" fill="#1ab7c7" stroke="#1ab7c7"/>
<polygon points="555.5,529.4 567.8,528.0 579.9,529.8 567.6,531.1" fill="#1fb9c0" stroke="#1fb9c0"/>
<polygon points="567.8,528.0 580.2,526.6 592.3,528.4 579.9,529.8" fill="#2cc1aa" stroke="#2cc1aa"/>
<polygon points="580.2,526.6 592.5,525.3 604.6,527.0 592.3,528.4" fill="#57c87d" stroke="#57c87d"/>
<polygon points="592.5,525.3 604.9,523.9 617.0,525.7 604.6,527.0" fill="#9ac747" stroke="#9ac747"/>
<polygon points="604.9,523.9 617.2,522.5 629.3,524.3 617.0,525.7" fill="#bac639" stroke="#bac639"/>
<polygon points="617.2,522.5 629.6,521.2 641.7,522.9 629.3,524.3" fill="#bfc639" stroke="#bfc639"/>
<polygon points="629.6,521.2 641.9,519.8 654.0,521.6 641.7,522.9" fill="#c4c639" stroke="#c4c639"/>
<polygon points="641.9,519.8 654.3,518.4 666.4,520.2 654.0,521.6" fill="#b1c639" stroke="#b1c639"/>
<polygon points="654.3,518.4 666.6,517.1 678.7,518.8 666.4,520.2" fill="#77c763" stroke="#77c763"/>
<polygon points="666.6,517.1 679.0,515.7 691.1,517.5 678.7,518.8" fill="#3ac895" stroke="#3ac895"/>
<polygon points="679.0,515.7 691.3,514.3 703.4,516.1 691.1,517.5" fill="#29c0ae" stroke="#29c0ae"/>
<polygon points="691.3,514.3 703.7,513.0 715.8,514.7 703.4,516.1" fill="#20babe" stroke="#20babe"/>
<polygon points="703.7,513.0 716.0,511.6 728.1,513.4 715.8,514.7" fill="#16b4cf" stroke="#16b4cf"/>
<polygon points="357.6,554.4 370.0,553.0 382.1,554.8 369.7,556.1" fill="#20babd" stroke="#20babd"/>
<polygon points="370.0,553.0 382.3,551.6 394.4,553.4 382.1,554.8" fill="#2cc1aa" stroke="#2cc1aa"/>
<polygon points="382.3,551.6 394.7,550.3 406.8,552.0 394.4,553.4" fill="#37c897" stroke="#37c897"/>
<polygon points="394.7,550.3 407.0,548.9 419.1,550.7 406.8,552.0" fill="#71c768" stroke="#71c768"/>
<polygon points="407.0,548.9 419.4,547.5 431.5,549.3 419.1,550.7" fill="#bcc639" stroke="#bcc639"/>
<polygon points="419.4,547.5 431.7,546.2 443.8,547.9 431.5,549.3" fill="#f5c438" stroke="#f5c438"/>
<polygon points="431.7,546.2 444.1,544.8 456.2,546.6 443.8,547.9" fill="#fecb33" stroke="#fecb33"/>
<polygon points="444.1,544.8 456.4,543.4 468.5,545.2 456.2,546.6" fill="#f8c438" stroke="#f8c438"/>
<polygon points="456.4,543.4 468.8,542.1 480.9,543.8 468.5,545.2" fill="#e7c438" stroke="#e7c438"/>
<polygon points="468.8,542.1 481.1,540.7 493.2,542.5 480.9,543.8" fill="#c6c639" stroke="#c6c639"/>
<polygon points="481.1,540.7 493.5,539.3 505.6,541.1 493.2,542.5" fill="#8ec751" stroke="#8ec751"/>
<polygon points="493.5,539.3 505.8,538.0 517.9,539.7 505.6,541.1" fill="#4bc887" stroke="#4bc887"/>
<polygon points="505.8,538.0 518.2,536.6 530.3,538.4 517.9,539.7" fill="#31c4a2" stroke="#31c4a2"/>
<polygon points="518.2,536.6 530.5,535.2 542.6,537.0 530.3,538.4" fill="#2dc2a9" stroke="#2dc2a9"/>
<polygon points="530.5,535.2 542.9,533.9 555.0,535.6 542.6,537.0" fill="#28bfb0" stroke="#28bfb0"/>
<polygon points="542.9,533.9 555.2,532.5 567.3,534.3 555.0,535.6" fill="#27beb2" stroke="#27beb2"/>
<polygon points="555.2,532.5 567.6,531.1 579.7,532.9 567.3,534.3" fill="#29bfaf" stroke="#29bfaf"/>
<polygon points="567.6,531.1 579.9,529.8 592.0,531.5 579.7,532.9" fill="#2bc1ac" stroke="#2bc1ac"/>
<polygon points="579.9,529.8 592.3,528.4 604.4,530.2 592.0,531.5" fill="#48c889" stroke="#48c889"/>
<polygon points="592.3,528.4 604.6,527.0 616.7,528.8 604.4,530.2" fill="#afc739" stroke="#afc739"/>
<polygon points="604.6,527.0 617.0,525.7 629.1,527.4 616.7,528.8" fill="#f9c438" stroke="#f9c438"/>
<polygon points="617.0,525.7 629.3,524.3 641.4,526.1 629.1,527.4" fill="#fcd92a" stroke="#fcd92a"/>
<polygon points="629.3,524.3 641.7,522.9 653.8,524.7 641.4,526.1" fill="#fcda29" stroke="#fcda29"/>
<polygon points="641.7,522.9 654.0,521.6 666.1,523.3 653.8,524.7" fill="#fcdb29" stroke="#fcdb29"/>
<polygon points="654.0,521.6 666.4,520.2 678.5,522.0 666.1,523.3" fill="#fec636" stroke="#fec636"/>
<polygon points="666.4,520.2 678.7,518.8 690.8,520.6 678.5,522.0" fill="#c2c639" stroke="#c2c639"/>
<polygon points="678.7,518.8 691.1,517.5 703.2,519.2 690.8,520.6" fill="#6fc769" stroke="#6fc769"/>
<polygon points="691.1,517.5 703.4,516.1 715.5,517.9 703.2,519.2" fill="#38c896" stroke="#38c896"/>
<polygon points="703.4,516.1 715.8,514.7 727.9,516.5 715.5,517.9" fill="#31c4a1" stroke="#31c4a1"/>
<polygon points="715.8,514.7 728.1,513.4 740.2,515.1 727.9,516.5" fill="#2bc1ab" stroke="#2bc1ab"/>
<polygon points="369.7,556.1 382.1,554.8 394.2,556.5 381.8,557.9" fill="#46c88b" stroke="#46c88b"/>
<polygon points="382.1,554.8 394.4,553.4 406.5,555.1 394.2,556.5" fill="#66c771" stroke="#66c771"/>
<polygon points="394.4,553.4 406.8,552.0 418.9,553.8 406.5,555.1" fill="#86c757" stroke="#86c757"/>
<polygon points="406.8,552.0 419.1,550.7 431.2,552.4 418.9,553.8" fill="#b8c639" stroke="#b8c639"/>
<polygon points="419.1,550.7 431.5,549.3 443.6,551.0 431.2,552.4" fill="#f1c438" stroke="#f1c438"/>
<polygon points="431.5,549.3 443.8,547.9 455.9,549.7 443.6,551.0" fill="#fce125" stroke="#fce125"/>
<polygon points="443.8,547.9 456.2,546.6 468.3,548.3 455.9,549.7" fill="#faef1c" stroke="#faef1c"/>
<polygon points="456.2,546.6 468.5,545.2 480.6,546.9 468.3,548.3" fill="#fbe423" stroke="#fbe423"/>
<polygon points="468.5,545.2 480.9,543.8 493.0,545.6 480.6,546.9" fill="#fcda29" stroke="#fcda29"/>
<polygon points="480.9,543.8 493.2,542.5 505.3,544.2 493.0,545.6" fill="#fec637" stroke="#fec637"/>
<polygon points="493.2,542.5 505.6,541.1 517.7,542.8 505.3,544.2" fill="#d4c538" stroke="#d4c538"/>
<polygon points="505.6,541.1 517.9,539.7 530.0,541.5 517.7,542.8" fill="#a4c73f" stroke="#a4c73f"/>
<polygon points="517.9,539.7 530.3,538.4 542.4,540.1 530.0,541.5" fill="#79c761" stroke="#79c761"/>
<polygon points="530.3,538.4 542.6,537.0 554.7,538.7 542.4,540.1" fill="#65c772" stroke="#65c772"/>
<polygon points="542.6,537.0 555.0,535.6 567.1,537.4 554.7,538.7" fill="#51c882" stroke="#51c882"/>
<polygon points="555.0,535.6 567.3,534.3 579.4,536.0 567.1,537.4" fill="#4bc887" stroke="#4bc887"/>
<polygon points="567.3,534.3 579.7,532.9 591.8,534.6 579.4,536.0" fill="#54c87f" stroke="#54c87f"/>
<polygon points="579.7,532.9 592.0,531.5 604.1,533.3 591.8,534.6" fill="#5dc878" stroke="#5dc878"/>
<polygon points="592.0,531.5 604.4,530.2 616.5,531.9 604.1,533.3" fill="#95c74b" stroke="#95c74b"/>
<polygon points="604.4,530.2 616.7,528.8 628.8,530.5 616.5,531.9" fill="#e4c438" stroke="#e4c438"/>
<polygon points="616.7,528.8 629.1,527.4 641.2,529.2 628.8,530.5" fill="#fbe324" stroke="#fbe324"/>
<polygon points="629.1,527.4 641.4,526.1 653.5,527.8 641.2,529.2" fill="#f9fb15" stroke="#f9fb15"/>
<polygon points="641.4,526.1 653.8,524.7 665.9,526.4 653.5,527.8" fill="#f9fb15" stroke="#f9fb15"/>
<polygon points="653.8,524.7 666.1,523.3 678.2,525.1 665.9,526.4" fill="#f9fb15" stroke="#f9fb15"/>
<polygon points="666.1,523.3 678.5,522.0 690.6,523.7 678.2,525.1" fill="#fbe622" stroke="#fbe622"/>
<polygon points="678.5,522.0 690.8,520.6 702.9,522.3 690.6,523.7" fill="#f2c438" stroke="#f2c438"/>
<polygon points="690.8,520.6 703.2,519.2 715.3,521.0 702.9,522.3" fill="#b3c639" stroke="#b3c639"/>
<polygon points="703.2,519.2 715.5,517.9 727.6,519.6 715.3,521.0" fill="#7cc75f" stroke="#7cc75f"/>
<polygon points="715.5,517.9 727.9,516.5 740.0,518.2 727.6,519.6" fill="#60c876" stroke="#60c876"/>
<polygon points="727.9,516.5 740.2,515.1 752.3,516.9 740.0,518.2" fill="#44c88c" stroke="#44c88c"/>
<polygon points="381.8,557.9 394.2,556.5 406.3,558.3 393.9,559.6" fill="#c2c639" stroke="#c2c639"/>
<polygon points="394.2,556.5 406.5,555.1 418.6,556.9 406.3,558.3" fill="#d0c538" stroke="#d0c538"/>
<polygon points="406.5,555.1 418.9,553.8 431.0,555.5 418.6,556.9" fill="#ddc538" stroke="#ddc538"/>
<polygon points="418.9,553.8 431.2,552.4 443.3,554.2 431.0,555.5" fill="#f5c438" stroke="#f5c438"/>
<polygon points="431.2,552.4 443.6,551.0 455.7,552.8 443.3,554.2" fill="#fdd42d" stroke="#fdd42d"/>
<polygon points="443.6,551.0 455.9,549.7 468.0,551.4 455.7,552.8" fill="#fbeb1f" stroke="#fbeb1f"/>
<polygon points="455.9,549.7 468.3,548.3 480.4,550.1 468.0,551.4" fill="#faf419" stroke="#faf419"/>
<polygon points="468.3,548.3 480.6,546.9 492.7,548.7 480.4,550.1" fill="#faed1d" stroke="#faed1d"/>
<polygon points="480.6,546.9 493.0,545.6 505.1,547.3 492.7,548.7" fill="#fbe721" stroke="#fbe721"/>
<polygon points="493.0,545.6 505.3,544.2 517.4,546.0 505.1,547.3" fill="#fcdb29" stroke="#fcdb29"/>
<polygon points="505.3,544.2 517.7,542.8 529.8,544.6 517.4,546.0" fill="#fec835" stroke="#fec835"/>
<polygon points="517.7,542.8 530.0,541.5 542.1,543.2 529.8,544.6" fill="#eac438" stroke="#eac438"/>
<polygon points="530.0,541.5 542.4,540.1 554.5,541.9 542.1,543.2" fill="#d2c538" stroke="#d2c538"/>
<polygon points="542.4,540.1 554.7,538.7 566.8,540.5 554.5,541.9" fill="#bcc639" stroke="#bcc639"/>
<polygon points="554.7,538.7 567.1,537.4 579.2,539.1 566.8,540.5" fill="#a4c73f" stroke="#a4c73f"/>
<polygon points="567.1,537.4 579.4,536.0 591.5,537.8 579.2,539.1" fill="#a1c741" stroke="#a1c741"/>
<polygon points="579.4,536.0 591.8,534.6 603.9,536.4 591.5,537.8" fill="#b5c639" stroke="#b5c639"/>
<polygon points="591.8,534.6 604.1,533.3 616.2,535.0 603.9,536.4" fill="#c6c639" stroke="#c6c639"/>
<polygon points="604.1,533.3 616.5,531.9 628.6,533.7 616.2,535.0" fill="#e4c438" stroke="#e4c438"/>
<polygon points="616.5,531.9 628.8,530.5 640.9,532.3 628.6,533.7" fill="#fdcf31" stroke="#fdcf31"/>
<polygon points="628.8,530.5 641.2,529.2 653.3,530.9 640.9,532.3" fill="#faec1e" stroke="#faec1e"/>
<polygon points="641.2,529.2 653.5,527.8 665.6,529.6 653.3,530.9" fill="#f9fb15" stroke="#f9fb15"/>
<polygon points="653.5,527.8 665.9,526.4 678.0,528.2 665.6,529.6" fill="#f9fb15" stroke="#f9fb15"/>
<polygon points="665.9,526.4 678.2,525.1 690.3,526.8 678.0,528.2" fill="#f9fb15" stroke="#f9fb15"/>
<polygon points="678.2,525.1 690.6,523.7 702.7,525.5 690.3,526.8" fill="#faee1d" stroke="#faee1d"/>
<polygon points="690.6,523.7 702.9,522.3 715.0,524.1 702.7,525.5" fill="#fdd52d" stroke="#fdd52d"/>
<polygon points="702.9,522.3 715.3,521.0 727.4,522.7 715.0,524.1" fill="#f2c438" stroke="#f2c438"/>
<polygon points="715.3,521.0 727.6,519.6 739.7,521.4 727.4,522.7" fill="#cbc539" stroke="#cbc539"/>
<polygon points="727.6,519.6 740.0,518.2 752.1,520.0 739.7,521.4" fill="#a1c742" stroke="#a1c742"/>
<polygon points="740.0,518.2 752.3,516.9 764.4,518.6 752.1,520.0" fill="#69c76f" stroke="#69c76f"/>
<polygon points="393.9,559.6 406.3,558.3 418.4,560.0 406.0,561.4" fill="#fcdb29" stroke="#fcdb29"/>
<polygon points="406.3,558.3 418.6,556.9 430.7,558.7 418.4,560.0" fill="#fcde27" stroke="#fcde27"/>
<polygon points="418.6,556.9 431.0,555.5 443.1,557.3 430.7,558.7" fill="#fbe125" stroke="#fbe125"/>
<polygon points="431.0,555.5 443.3,554.2 455.4,555.9 443.1,557.3" fill="#fbe622" stroke="#fbe622"/>
<polygon points="443.3,554.2 455.7,552.8 467.8,554.6 455.4,555.9" fill="#faee1d" stroke="#faee1d"/>
<polygon points="455.7,552.8 468.0,551.4 480.1,553.2 467.8,554.6" fill="#faf618" stroke="#faf618"/>
<polygon points="468.0,551.4 480.4,550.1 492.5,551.8 480.1,553.2" fill="#f9f816" stroke="#f9f816"/>
<polygon points="480.4,550.1 492.7,548.7 504.8,550.5 492.5,551.8" fill="#faf617" stroke="#faf617"/>
<polygon points="492.7,548.7 505.1,547.3 517.2,549.1 504.8,550.5" fill="#faf419" stroke="#faf419"/>
<polygon points="505.1,547.3 517.4,546.0 529.5,547.7 517.2,549.1" fill="#faf01b" stroke="#faf01b"/>
<polygon points="517.4,546.0 529.8,544.6 541.9,546.4 529.5,547.7" fill="#fbea1f" stroke="#fbea1f"/>
<polygon points="529.8,544.6 542.1,543.2 554.2,545.0 541.9,546.4" fill="#fbe423" stroke="#fbe423"/>
<polygon points="542.1,543.2 554.5,541.9 566.6,543.6 554.2,545.0" fill="#fcd72b" stroke="#fcd72b"/>
<polygon points="554.5,541.9 566.8,540.5 578.9,542.3 566.6,543.6" fill="#fec338" stroke="#fec338"/>
<polygon points="566.8,540.5 579.2,539.1 591.3,540.9 578.9,542.3" fill="#e1c438" stroke="#e1c438"/>
<polygon points="579.2,539.1 591.5,537.8 603.6,539.5 591.3,540.9" fill="#e1c538" stroke="#e1c538"/>
<polygon points="591.5,537.8 603.9,536.4 616.0,538.2 603.6,539.5" fill="#fcc338" stroke="#fcc338"/>
<polygon points="603.9,536.4 616.2,535.0 628.3,536.8 616.0,538.2" fill="#fdd42d" stroke="#fdd42d"/>
<polygon points="616.2,535.0 628.6,533.7 640.7,535.4 628.3,536.8" fill="#fbe324" stroke="#fbe324"/>
<polygon points="628.6,533.7 640.9,532.3 653.0,534.1 640.7,535.4" fill="#faec1e" stroke="#faec1e"/>
<polygon points="640.9,532.3 653.3,530.9 665.4,532.7 653.0,534.1" fill="#faf618" stroke="#faf618"/>
<polygon points="653.3,530.9 665.6,529.6 677.7,531.3 665.4,532.7" fill="#f9fb15" stroke="#f9fb15"/>
<polygon points="665.6,529.6 678.0,528.2 690.1,530.0 677.7,531.3" fill="#f9fb15" stroke="#f9fb15"/>
<polygon points="678.0,528.2 690.3,526.8 702.4,528.6 690.1,530.0" fill="#f9fb15" stroke="#f9fb15"/>
<polygon points="690.3,526.8 702.7,525.5 714.8,527.2 702.4,528.6" fill="#faf717" stroke="#faf717"/>
<polygon points="702.7,525.5 715.0,524.1 727.1,525.9 714.8,527.2" fill="#faee1d" stroke="#faee1d"/>
<polygon points="715.0,524.1 727.4,522.7 739.5,524.5 727.1,525.9" fill="#fbe622" stroke="#fbe622"/>
<polygon points="727.4,522.7 739.7,521.4 751.8,523.1 739.5,524.5" fill="#fdcd32" stroke="#fdcd32"/>
<polygon points="739.7,521.4 752.1,520.0 764.2,521.8 751.8,523.1" fill="#d2c538" stroke="#d2c538"/>
<polygon points="752.1,520.0 764.4,518.6 776.5,520.4 764.2,521.8" fill="#8dc751" stroke="#8dc751"/>
</g>
<path d="M79.5,513.9L406.0,561.4M116.5,509.8L443.1,557.3M153.6,505.7L480.1,553.2M190.6,501.6L517.2,549.1M227.7,497.5L554.2,545.0M264.8,493.4L591.3,540.9M301.8,489.3L628.3,536.8M338.8,485.2L665.4,532.7M375.9,481.1L702.4,528.6M412.9,477.0L739.5,524.5M450.0,472.9L776.5,520.4M79.5,513.9L450.0,472.9M115.8,519.2L486.3,478.2M152.1,524.5L522.6,483.5M188.3,529.7L558.8,488.7M224.6,535.0L595.1,494.0M260.9,540.3L631.4,499.3M297.2,545.6L667.7,504.6M333.4,550.8L703.9,509.8M369.7,556.1L740.2,515.1M406.0,561.4L776.5,520.4" fill="none" stroke="#000" stroke-width="1.7" stroke-linecap="round"/>
<line x1="79.50" y1="585.00" x2="79.50" y2="442.80" stroke="#8c8c8c" stroke-width="2.0"/>
<polyline points="79.5,585.0 406.0,632.5 776.5,591.5" fill="none" stroke="#3a3a3a" stroke-width="1.5" stroke-linejoin="round"/>
<line x1="69.50" y1="585.00" x2="79.50" y2="585.00" stroke="#3a3a3a" stroke-width="1.5"/>
<text x="61.90" y="591.70" font-size="19.5" text-anchor="end" fill="#262626">-1</text>
<line x1="69.50" y1="513.90" x2="79.50" y2="513.90" stroke="#3a3a3a" stroke-width="1.5"/>
<text x="61.90" y="520.60" font-size="19.5" text-anchor="end" fill="#262626">0</text>
<line x1="69.50" y1="442.80" x2="79.50" y2="442.80" stroke="#3a3a3a" stroke-width="1.5"/>
<text x="61.90" y="449.50" font-size="19.5" text-anchor="end" fill="#262626">1</text>
<line x1="133.92" y1="592.92" x2="124.92" y2="594.12" stroke="#3a3a3a" stroke-width="1.6"/>
<text x="117.42" y="615.42" font-size="19.5" text-anchor="end" fill="#262626">20</text>
<line x1="242.75" y1="608.75" x2="233.75" y2="609.95" stroke="#3a3a3a" stroke-width="1.6"/>
<text x="226.25" y="631.25" font-size="19.5" text-anchor="end" fill="#262626">0</text>
<line x1="351.58" y1="624.59" x2="342.58" y2="625.79" stroke="#3a3a3a" stroke-width="1.6"/>
<text x="335.08" y="647.09" font-size="19.5" text-anchor="end" fill="#262626">-20</text>
<line x1="406.00" y1="632.50" x2="414.00" y2="634.10" stroke="#3a3a3a" stroke-width="1.6"/>
<text x="421.20" y="655.00" font-size="19.5" text-anchor="start" fill="#262626">-60</text>
<line x1="467.75" y1="625.67" x2="475.75" y2="627.27" stroke="#3a3a3a" stroke-width="1.6"/>
<text x="482.95" y="648.17" font-size="19.5" text-anchor="start" fill="#262626">-40</text>
<line x1="529.50" y1="618.83" x2="537.50" y2="620.43" stroke="#3a3a3a" stroke-width="1.6"/>
<text x="544.70" y="641.33" font-size="19.5" text-anchor="start" fill="#262626">-20</text>
<line x1="591.25" y1="612.00" x2="599.25" y2="613.60" stroke="#3a3a3a" stroke-width="1.6"/>
<text x="606.45" y="634.50" font-size="19.5" text-anchor="start" fill="#262626">0</text>
<line x1="653.00" y1="605.17" x2="661.00" y2="606.77" stroke="#3a3a3a" stroke-width="1.6"/>
<text x="668.20" y="627.67" font-size="19.5" text-anchor="start" fill="#262626">20</text>
<line x1="714.75" y1="598.33" x2="722.75" y2="599.93" stroke="#3a3a3a" stroke-width="1.6"/>
<text x="729.95" y="620.83" font-size="19.5" text-anchor="start" fill="#262626">40</text>
<line x1="776.50" y1="591.50" x2="784.50" y2="593.10" stroke="#3a3a3a" stroke-width="1.6"/>
<text x="791.70" y="614.00" font-size="19.5" text-anchor="start" fill="#262626">60</text>
<text x="221.00" y="676.30" font-size="21.2" text-anchor="middle" fill="#262626">AA (deg)</text>
<text x="600.50" y="677.30" font-size="21.2" text-anchor="middle" fill="#262626">FE (deg)</text>
<text x="37.40" y="514.80" font-size="21.2" text-anchor="middle" fill="#262626" transform="rotate(-90 37.40 514.80)">Axial Force (N)</text>
</g>
</svg>
</body></html>
